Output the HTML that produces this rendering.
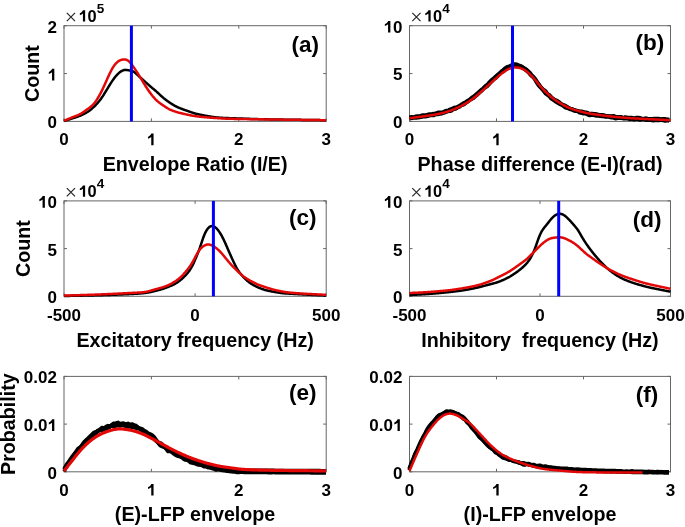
<!DOCTYPE html>
<html><head><meta charset="utf-8"><style>
html,body{margin:0;padding:0;background:#fff;width:685px;height:527px;overflow:hidden}
svg{display:block;will-change:transform;font-family:"Liberation Sans", sans-serif}
text{fill:#000}
</style></head><body>
<svg width="685" height="527" viewBox="0 0 685 527">
<rect x="64.00" y="25.70" width="262.20" height="95.70" fill="none" stroke="#666666" stroke-width="1"/>
<path d="M64.00,121.40v-3.00M64.00,25.70v3.00" stroke="#666666" stroke-width="1"/>
<text x="64.00" y="145.20" font-size="17.00" font-weight="bold" text-anchor="middle">0</text>
<path d="M151.40,121.40v-3.00M151.40,25.70v3.00" stroke="#666666" stroke-width="1"/>
<path d="M829,0L552,0L552,1000C450,905 320,840 167,790L167,1030C330,1090 460,1200 560,1409L829,1409Z" transform="translate(146.67,145.20) scale(0.00830,-0.00830)" fill="#000"/>
<text x="151.40" y="145.20" font-size="17.00" font-weight="bold" text-anchor="middle">&#8199;</text>
<path d="M238.80,121.40v-3.00M238.80,25.70v3.00" stroke="#666666" stroke-width="1"/>
<text x="238.80" y="145.20" font-size="17.00" font-weight="bold" text-anchor="middle">2</text>
<path d="M326.20,121.40v-3.00M326.20,25.70v3.00" stroke="#666666" stroke-width="1"/>
<text x="326.20" y="145.20" font-size="17.00" font-weight="bold" text-anchor="middle">3</text>
<path d="M64.00,121.40h3.00M326.20,121.40h-3.00" stroke="#666666" stroke-width="1"/>
<text x="56.90" y="128.30" font-size="17.00" font-weight="bold" text-anchor="end">0</text>
<path d="M64.00,73.55h3.00M326.20,73.55h-3.00" stroke="#666666" stroke-width="1"/>
<path d="M829,0L552,0L552,1000C450,905 320,840 167,790L167,1030C330,1090 460,1200 560,1409L829,1409Z" transform="translate(47.45,80.45) scale(0.00830,-0.00830)" fill="#000"/>
<text x="56.90" y="80.45" font-size="17.00" font-weight="bold" text-anchor="end">&#8199;</text>
<path d="M64.00,25.70h3.00M326.20,25.70h-3.00" stroke="#666666" stroke-width="1"/>
<text x="56.90" y="32.60" font-size="17.00" font-weight="bold" text-anchor="end">2</text>
<text x="195.10" y="170.50" font-size="19.70" font-weight="bold" text-anchor="middle">Envelope Ratio (I/E)</text>
<text x="0" y="0" font-size="19.70" font-weight="bold" text-anchor="middle" transform="translate(39.30,73.55) rotate(-90)">Count</text>
<path d="M66.80,12.90l8.2,8.2M75.00,12.90l-8.2,8.2" stroke="#222" stroke-width="1.15" fill="none"/>
<path d="M829,0L552,0L552,1000C450,905 320,840 167,790L167,1030C330,1090 460,1200 560,1409L829,1409Z" transform="translate(78.50,21.50) scale(0.00801,-0.00801)" fill="#000"/>
<text x="78.50" y="21.50" font-size="16.40" font-weight="bold" text-anchor="start">&#8199;0</text>
<text x="96.80" y="12.90" font-size="13.50" font-weight="bold" text-anchor="start">5</text>
<text x="291.50" y="51.80" font-size="22.50" font-weight="bold" text-anchor="start">(a)</text>
<rect x="409.50" y="25.70" width="261.00" height="95.70" fill="none" stroke="#666666" stroke-width="1"/>
<path d="M409.50,121.40v-3.00M409.50,25.70v3.00" stroke="#666666" stroke-width="1"/>
<text x="409.50" y="145.20" font-size="17.00" font-weight="bold" text-anchor="middle">0</text>
<path d="M496.50,121.40v-3.00M496.50,25.70v3.00" stroke="#666666" stroke-width="1"/>
<path d="M829,0L552,0L552,1000C450,905 320,840 167,790L167,1030C330,1090 460,1200 560,1409L829,1409Z" transform="translate(491.77,145.20) scale(0.00830,-0.00830)" fill="#000"/>
<text x="496.50" y="145.20" font-size="17.00" font-weight="bold" text-anchor="middle">&#8199;</text>
<path d="M583.50,121.40v-3.00M583.50,25.70v3.00" stroke="#666666" stroke-width="1"/>
<text x="583.50" y="145.20" font-size="17.00" font-weight="bold" text-anchor="middle">2</text>
<path d="M670.50,121.40v-3.00M670.50,25.70v3.00" stroke="#666666" stroke-width="1"/>
<text x="670.50" y="145.20" font-size="17.00" font-weight="bold" text-anchor="middle">3</text>
<path d="M409.50,121.40h3.00M670.50,121.40h-3.00" stroke="#666666" stroke-width="1"/>
<text x="402.40" y="128.30" font-size="17.00" font-weight="bold" text-anchor="end">0</text>
<path d="M409.50,73.55h3.00M670.50,73.55h-3.00" stroke="#666666" stroke-width="1"/>
<text x="402.40" y="80.45" font-size="17.00" font-weight="bold" text-anchor="end">5</text>
<path d="M409.50,25.70h3.00M670.50,25.70h-3.00" stroke="#666666" stroke-width="1"/>
<path d="M829,0L552,0L552,1000C450,905 320,840 167,790L167,1030C330,1090 460,1200 560,1409L829,1409Z" transform="translate(383.49,32.60) scale(0.00830,-0.00830)" fill="#000"/>
<text x="402.40" y="32.60" font-size="17.00" font-weight="bold" text-anchor="end">&#8199;0</text>
<text x="540.00" y="170.50" font-size="19.70" font-weight="bold" text-anchor="middle">Phase difference (E-I)(rad)</text>
<path d="M412.30,12.90l8.2,8.2M420.50,12.90l-8.2,8.2" stroke="#222" stroke-width="1.15" fill="none"/>
<path d="M829,0L552,0L552,1000C450,905 320,840 167,790L167,1030C330,1090 460,1200 560,1409L829,1409Z" transform="translate(424.00,21.50) scale(0.00801,-0.00801)" fill="#000"/>
<text x="424.00" y="21.50" font-size="16.40" font-weight="bold" text-anchor="start">&#8199;0</text>
<text x="442.30" y="12.90" font-size="13.50" font-weight="bold" text-anchor="start">4</text>
<text x="635.40" y="50.30" font-size="22.50" font-weight="bold" text-anchor="start">(b)</text>
<rect x="64.00" y="200.90" width="262.20" height="95.40" fill="none" stroke="#666666" stroke-width="1"/>
<path d="M64.00,296.30v-3.00M64.00,200.90v3.00" stroke="#666666" stroke-width="1"/>
<text x="64.00" y="320.90" font-size="17.00" font-weight="bold" text-anchor="middle">-500</text>
<path d="M195.10,296.30v-3.00M195.10,200.90v3.00" stroke="#666666" stroke-width="1"/>
<text x="195.10" y="320.90" font-size="17.00" font-weight="bold" text-anchor="middle">0</text>
<path d="M326.20,296.30v-3.00M326.20,200.90v3.00" stroke="#666666" stroke-width="1"/>
<text x="326.20" y="320.90" font-size="17.00" font-weight="bold" text-anchor="middle">500</text>
<path d="M64.00,296.30h3.00M326.20,296.30h-3.00" stroke="#666666" stroke-width="1"/>
<text x="56.90" y="303.20" font-size="17.00" font-weight="bold" text-anchor="end">0</text>
<path d="M64.00,248.60h3.00M326.20,248.60h-3.00" stroke="#666666" stroke-width="1"/>
<text x="56.90" y="255.50" font-size="17.00" font-weight="bold" text-anchor="end">5</text>
<path d="M64.00,200.90h3.00M326.20,200.90h-3.00" stroke="#666666" stroke-width="1"/>
<path d="M829,0L552,0L552,1000C450,905 320,840 167,790L167,1030C330,1090 460,1200 560,1409L829,1409Z" transform="translate(37.99,207.80) scale(0.00830,-0.00830)" fill="#000"/>
<text x="56.90" y="207.80" font-size="17.00" font-weight="bold" text-anchor="end">&#8199;0</text>
<text x="195.10" y="346.60" font-size="19.70" font-weight="bold" text-anchor="middle">Excitatory frequency (Hz)</text>
<text x="0" y="0" font-size="19.70" font-weight="bold" text-anchor="middle" transform="translate(30.20,248.60) rotate(-90)">Count</text>
<path d="M66.80,188.10l8.2,8.2M75.00,188.10l-8.2,8.2" stroke="#222" stroke-width="1.15" fill="none"/>
<path d="M829,0L552,0L552,1000C450,905 320,840 167,790L167,1030C330,1090 460,1200 560,1409L829,1409Z" transform="translate(78.50,196.70) scale(0.00801,-0.00801)" fill="#000"/>
<text x="78.50" y="196.70" font-size="16.40" font-weight="bold" text-anchor="start">&#8199;0</text>
<text x="96.80" y="188.10" font-size="13.50" font-weight="bold" text-anchor="start">4</text>
<text x="288.90" y="225.40" font-size="22.50" font-weight="bold" text-anchor="start">(c)</text>
<rect x="409.50" y="200.90" width="261.00" height="95.40" fill="none" stroke="#666666" stroke-width="1"/>
<path d="M409.50,296.30v-3.00M409.50,200.90v3.00" stroke="#666666" stroke-width="1"/>
<text x="409.50" y="320.90" font-size="17.00" font-weight="bold" text-anchor="middle">-500</text>
<path d="M540.00,296.30v-3.00M540.00,200.90v3.00" stroke="#666666" stroke-width="1"/>
<text x="540.00" y="320.90" font-size="17.00" font-weight="bold" text-anchor="middle">0</text>
<path d="M670.50,296.30v-3.00M670.50,200.90v3.00" stroke="#666666" stroke-width="1"/>
<text x="670.50" y="320.90" font-size="17.00" font-weight="bold" text-anchor="middle">500</text>
<path d="M409.50,296.30h3.00M670.50,296.30h-3.00" stroke="#666666" stroke-width="1"/>
<text x="402.40" y="303.20" font-size="17.00" font-weight="bold" text-anchor="end">0</text>
<path d="M409.50,248.60h3.00M670.50,248.60h-3.00" stroke="#666666" stroke-width="1"/>
<text x="402.40" y="255.50" font-size="17.00" font-weight="bold" text-anchor="end">5</text>
<path d="M409.50,200.90h3.00M670.50,200.90h-3.00" stroke="#666666" stroke-width="1"/>
<path d="M829,0L552,0L552,1000C450,905 320,840 167,790L167,1030C330,1090 460,1200 560,1409L829,1409Z" transform="translate(383.49,207.80) scale(0.00830,-0.00830)" fill="#000"/>
<text x="402.40" y="207.80" font-size="17.00" font-weight="bold" text-anchor="end">&#8199;0</text>
<text x="540.00" y="346.60" font-size="19.70" font-weight="bold" text-anchor="middle">Inhibitory&#160; frequency (Hz)</text>
<path d="M412.30,188.10l8.2,8.2M420.50,188.10l-8.2,8.2" stroke="#222" stroke-width="1.15" fill="none"/>
<path d="M829,0L552,0L552,1000C450,905 320,840 167,790L167,1030C330,1090 460,1200 560,1409L829,1409Z" transform="translate(424.00,196.70) scale(0.00801,-0.00801)" fill="#000"/>
<text x="424.00" y="196.70" font-size="16.40" font-weight="bold" text-anchor="start">&#8199;0</text>
<text x="442.30" y="188.10" font-size="13.50" font-weight="bold" text-anchor="start">4</text>
<text x="632.80" y="226.70" font-size="22.50" font-weight="bold" text-anchor="start">(d)</text>
<rect x="64.00" y="376.40" width="262.20" height="95.40" fill="none" stroke="#666666" stroke-width="1"/>
<path d="M64.00,471.80v-3.00M64.00,376.40v3.00" stroke="#666666" stroke-width="1"/>
<text x="64.00" y="495.60" font-size="17.00" font-weight="bold" text-anchor="middle">0</text>
<path d="M151.40,471.80v-3.00M151.40,376.40v3.00" stroke="#666666" stroke-width="1"/>
<path d="M829,0L552,0L552,1000C450,905 320,840 167,790L167,1030C330,1090 460,1200 560,1409L829,1409Z" transform="translate(146.67,495.60) scale(0.00830,-0.00830)" fill="#000"/>
<text x="151.40" y="495.60" font-size="17.00" font-weight="bold" text-anchor="middle">&#8199;</text>
<path d="M238.80,471.80v-3.00M238.80,376.40v3.00" stroke="#666666" stroke-width="1"/>
<text x="238.80" y="495.60" font-size="17.00" font-weight="bold" text-anchor="middle">2</text>
<path d="M326.20,471.80v-3.00M326.20,376.40v3.00" stroke="#666666" stroke-width="1"/>
<text x="326.20" y="495.60" font-size="17.00" font-weight="bold" text-anchor="middle">3</text>
<path d="M64.00,471.80h3.00M326.20,471.80h-3.00" stroke="#666666" stroke-width="1"/>
<text x="56.90" y="478.70" font-size="17.00" font-weight="bold" text-anchor="end">0</text>
<path d="M64.00,424.10h3.00M326.20,424.10h-3.00" stroke="#666666" stroke-width="1"/>
<path d="M829,0L552,0L552,1000C450,905 320,840 167,790L167,1030C330,1090 460,1200 560,1409L829,1409Z" transform="translate(47.45,431.00) scale(0.00830,-0.00830)" fill="#000"/>
<text x="56.90" y="431.00" font-size="17.00" font-weight="bold" text-anchor="end">0.0&#8199;</text>
<path d="M64.00,376.40h3.00M326.20,376.40h-3.00" stroke="#666666" stroke-width="1"/>
<text x="56.90" y="383.30" font-size="17.00" font-weight="bold" text-anchor="end">0.02</text>
<text x="195.10" y="521.40" font-size="19.70" font-weight="bold" text-anchor="middle">(E)-LFP envelope</text>
<text x="0" y="0" font-size="19.70" font-weight="bold" text-anchor="middle" transform="translate(14.90,424.10) rotate(-90)">Probability</text>
<text x="288.90" y="400.00" font-size="22.50" font-weight="bold" text-anchor="start">(e)</text>
<rect x="409.50" y="376.40" width="261.00" height="95.40" fill="none" stroke="#666666" stroke-width="1"/>
<path d="M409.50,471.80v-3.00M409.50,376.40v3.00" stroke="#666666" stroke-width="1"/>
<text x="409.50" y="495.60" font-size="17.00" font-weight="bold" text-anchor="middle">0</text>
<path d="M496.50,471.80v-3.00M496.50,376.40v3.00" stroke="#666666" stroke-width="1"/>
<path d="M829,0L552,0L552,1000C450,905 320,840 167,790L167,1030C330,1090 460,1200 560,1409L829,1409Z" transform="translate(491.77,495.60) scale(0.00830,-0.00830)" fill="#000"/>
<text x="496.50" y="495.60" font-size="17.00" font-weight="bold" text-anchor="middle">&#8199;</text>
<path d="M583.50,471.80v-3.00M583.50,376.40v3.00" stroke="#666666" stroke-width="1"/>
<text x="583.50" y="495.60" font-size="17.00" font-weight="bold" text-anchor="middle">2</text>
<path d="M670.50,471.80v-3.00M670.50,376.40v3.00" stroke="#666666" stroke-width="1"/>
<text x="670.50" y="495.60" font-size="17.00" font-weight="bold" text-anchor="middle">3</text>
<path d="M409.50,471.80h3.00M670.50,471.80h-3.00" stroke="#666666" stroke-width="1"/>
<text x="402.40" y="478.70" font-size="17.00" font-weight="bold" text-anchor="end">0</text>
<path d="M409.50,424.10h3.00M670.50,424.10h-3.00" stroke="#666666" stroke-width="1"/>
<path d="M829,0L552,0L552,1000C450,905 320,840 167,790L167,1030C330,1090 460,1200 560,1409L829,1409Z" transform="translate(392.95,431.00) scale(0.00830,-0.00830)" fill="#000"/>
<text x="402.40" y="431.00" font-size="17.00" font-weight="bold" text-anchor="end">0.0&#8199;</text>
<path d="M409.50,376.40h3.00M670.50,376.40h-3.00" stroke="#666666" stroke-width="1"/>
<text x="402.40" y="383.30" font-size="17.00" font-weight="bold" text-anchor="end">0.02</text>
<text x="540.00" y="521.40" font-size="19.70" font-weight="bold" text-anchor="middle">(I)-LFP envelope</text>
<text x="635.80" y="401.60" font-size="22.50" font-weight="bold" text-anchor="start">(f)</text>
<path d="M64.00,121.00 L64.50,120.84 L65.00,120.69 L65.50,120.53 L66.00,120.38 L66.50,120.22 L67.00,120.07 L67.50,119.91 L68.00,119.75 L68.50,119.60 L69.00,119.44 L69.50,119.28 L70.00,119.12 L70.50,118.97 L71.00,118.81 L71.50,118.65 L72.00,118.49 L72.50,118.33 L73.00,118.17 L73.50,118.01 L74.00,117.85 L74.50,117.69 L75.00,117.53 L75.50,117.37 L76.00,117.21 L76.50,117.04 L77.00,116.87 L77.50,116.70 L78.00,116.52 L78.50,116.34 L79.00,116.15 L79.50,115.95 L80.00,115.75 L80.50,115.53 L81.00,115.31 L81.50,115.09 L82.00,114.85 L82.50,114.61 L83.00,114.37 L83.50,114.12 L84.00,113.86 L84.50,113.60 L85.00,113.34 L85.50,113.07 L86.00,112.81 L86.50,112.53 L87.00,112.25 L87.50,111.95 L88.00,111.65 L88.50,111.32 L89.00,110.98 L89.50,110.62 L90.00,110.23 L90.50,109.83 L91.00,109.42 L91.50,109.00 L92.00,108.56 L92.50,108.12 L93.00,107.67 L93.50,107.20 L94.00,106.73 L94.50,106.25 L95.00,105.75 L95.50,105.25 L96.00,104.73 L96.50,104.20 L97.00,103.65 L97.50,103.09 L98.00,102.52 L98.50,101.94 L99.00,101.33 L99.50,100.72 L100.00,100.08 L100.50,99.42 L101.00,98.75 L101.50,98.05 L102.00,97.33 L102.50,96.59 L103.00,95.83 L103.50,95.05 L104.00,94.25 L104.50,93.45 L105.00,92.64 L105.50,91.82 L106.00,91.00 L106.50,90.18 L107.00,89.36 L107.50,88.55 L108.00,87.73 L108.50,86.91 L109.00,86.09 L109.50,85.28 L110.00,84.47 L110.50,83.67 L111.00,82.88 L111.50,82.11 L112.00,81.36 L112.50,80.62 L113.00,79.90 L113.50,79.20 L114.00,78.51 L114.50,77.85 L115.00,77.20 L115.50,76.58 L116.00,75.97 L116.50,75.39 L117.00,74.84 L117.50,74.31 L118.00,73.81 L118.50,73.34 L119.00,72.89 L119.50,72.48 L120.00,72.10 L120.50,71.74 L121.00,71.41 L121.50,71.10 L122.00,70.83 L122.50,70.58 L123.00,70.37 L123.50,70.19 L124.00,70.05 L124.50,69.95 L125.00,69.89 L125.50,69.87 L126.00,69.89 L126.50,69.94 L127.00,70.02 L127.50,70.11 L128.00,70.20 L128.50,70.30 L129.00,70.39 L129.50,70.48 L130.00,70.57 L130.50,70.66 L131.00,70.76 L131.50,70.88 L132.00,71.03 L132.50,71.21 L133.00,71.43 L133.50,71.68 L134.00,71.99 L134.50,72.33 L135.00,72.71 L135.50,73.12 L136.00,73.55 L136.50,74.00 L137.00,74.45 L137.50,74.91 L138.00,75.37 L138.50,75.83 L139.00,76.28 L139.50,76.73 L140.00,77.18 L140.50,77.63 L141.00,78.08 L141.50,78.53 L142.00,78.98 L142.50,79.42 L143.00,79.87 L143.50,80.32 L144.00,80.77 L144.50,81.22 L145.00,81.67 L145.50,82.12 L146.00,82.57 L146.50,83.02 L147.00,83.47 L147.50,83.92 L148.00,84.36 L148.50,84.80 L149.00,85.23 L149.50,85.66 L150.00,86.09 L150.50,86.52 L151.00,86.94 L151.50,87.35 L152.00,87.77 L152.50,88.19 L153.00,88.60 L153.50,89.02 L154.00,89.44 L154.50,89.86 L155.00,90.29 L155.50,90.72 L156.00,91.16 L156.50,91.60 L157.00,92.06 L157.50,92.51 L158.00,92.98 L158.50,93.45 L159.00,93.92 L159.50,94.39 L160.00,94.86 L160.50,95.32 L161.00,95.78 L161.50,96.24 L162.00,96.69 L162.50,97.13 L163.00,97.56 L163.50,97.98 L164.00,98.40 L164.50,98.80 L165.00,99.20 L165.50,99.59 L166.00,99.98 L166.50,100.36 L167.00,100.73 L167.50,101.09 L168.00,101.45 L168.50,101.80 L169.00,102.14 L169.50,102.48 L170.00,102.82 L170.50,103.15 L171.00,103.47 L171.50,103.79 L172.00,104.11 L172.50,104.42 L173.00,104.73 L173.50,105.03 L174.00,105.32 L174.50,105.60 L175.00,105.88 L175.50,106.14 L176.00,106.40 L176.50,106.65 L177.00,106.89 L177.50,107.13 L178.00,107.36 L178.50,107.58 L179.00,107.79 L179.50,108.00 L180.00,108.21 L180.50,108.41 L181.00,108.60 L181.50,108.79 L182.00,108.98 L182.50,109.17 L183.00,109.35 L183.50,109.54 L184.00,109.72 L184.50,109.90 L185.00,110.07 L185.50,110.25 L186.00,110.42 L186.50,110.60 L187.00,110.77 L187.50,110.94 L188.00,111.12 L188.50,111.29 L189.00,111.46 L189.50,111.63 L190.00,111.81 L190.50,111.98 L191.00,112.16 L191.50,112.33 L192.00,112.51 L192.50,112.68 L193.00,112.85 L193.50,113.01 L194.00,113.17 L194.50,113.32 L195.00,113.46 L195.50,113.60 L196.00,113.73 L196.50,113.85 L197.00,113.97 L197.50,114.08 L198.00,114.19 L198.50,114.30 L199.00,114.41 L199.50,114.51 L200.00,114.62 L200.50,114.72 L201.00,114.82 L201.50,114.93 L202.00,115.03 L202.50,115.13 L203.00,115.23 L203.50,115.33 L204.00,115.42 L204.50,115.52 L205.00,115.62 L205.50,115.71 L206.00,115.80 L206.50,115.89 L207.00,115.98 L207.50,116.07 L208.00,116.16 L208.50,116.25 L209.00,116.33 L209.50,116.41 L210.00,116.50 L210.50,116.57 L211.00,116.65 L211.50,116.73 L212.00,116.80 L212.50,116.87 L213.00,116.94 L213.50,117.01 L214.00,117.08 L214.50,117.14 L215.00,117.20 L215.50,117.26 L216.00,117.31 L216.50,117.37 L217.00,117.42 L217.50,117.47 L218.00,117.52 L218.50,117.56 L219.00,117.60 L219.50,117.64 L220.00,117.68 L220.50,117.72 L221.00,117.75 L221.50,117.79 L222.00,117.82 L222.50,117.85 L223.00,117.88 L223.50,117.90 L224.00,117.93 L224.50,117.96 L225.00,117.98 L225.50,118.00 L226.00,118.02 L226.50,118.05 L227.00,118.07 L227.50,118.09 L228.00,118.10 L228.50,118.12 L229.00,118.14 L229.50,118.16 L230.00,118.17 L230.50,118.19 L231.00,118.21 L231.50,118.22 L232.00,118.24 L232.50,118.25 L233.00,118.27 L233.50,118.29 L234.00,118.30 L234.50,118.32 L235.00,118.33 L235.50,118.35 L236.00,118.36 L236.50,118.38 L237.00,118.40 L237.50,118.41 L238.00,118.43 L238.50,118.45 L239.00,118.47 L239.50,118.48 L240.00,118.50 L240.50,118.52 L241.00,118.54 L241.50,118.56 L242.00,118.58 L242.50,118.59 L243.00,118.61 L243.50,118.63 L244.00,118.65 L244.50,118.67 L245.00,118.69 L245.50,118.71 L246.00,118.73 L246.50,118.74 L247.00,118.76 L247.50,118.78 L248.00,118.80 L248.50,118.82 L249.00,118.83 L249.50,118.85 L250.00,118.87 L250.50,118.89 L251.00,118.90 L251.50,118.92 L252.00,118.94 L252.50,118.95 L253.00,118.97 L253.50,118.99 L254.00,119.00 L254.50,119.02 L255.00,119.03 L255.50,119.05 L256.00,119.06 L256.50,119.08 L257.00,119.09 L257.50,119.10 L258.00,119.12 L258.50,119.13 L259.00,119.15 L259.50,119.16 L260.00,119.17 L260.50,119.19 L261.00,119.20 L261.50,119.21 L262.00,119.22 L262.50,119.24 L263.00,119.25 L263.50,119.26 L264.00,119.27 L264.50,119.28 L265.00,119.29 L265.50,119.31 L266.00,119.32 L266.50,119.33 L267.00,119.34 L267.50,119.35 L268.00,119.36 L268.50,119.37 L269.00,119.38 L269.50,119.39 L270.00,119.40 L270.50,119.41 L271.00,119.42 L271.50,119.43 L272.00,119.44 L272.50,119.45 L273.00,119.46 L273.50,119.46 L274.00,119.47 L274.50,119.48 L275.00,119.49 L275.50,119.50 L276.00,119.51 L276.50,119.52 L277.00,119.52 L277.50,119.53 L278.00,119.54 L278.50,119.55 L279.00,119.56 L279.50,119.56 L280.00,119.57 L280.50,119.58 L281.00,119.59 L281.50,119.60 L282.00,119.60 L282.50,119.61 L283.00,119.62 L283.50,119.63 L284.00,119.63 L284.50,119.64 L285.00,119.65 L285.50,119.66 L286.00,119.66 L286.50,119.67 L287.00,119.68 L287.50,119.68 L288.00,119.69 L288.50,119.70 L289.00,119.71 L289.50,119.71 L290.00,119.72 L290.50,119.73 L291.00,119.73 L291.50,119.74 L292.00,119.75 L292.50,119.76 L293.00,119.76 L293.50,119.77 L294.00,119.78 L294.50,119.78 L295.00,119.79 L295.50,119.80 L296.00,119.80 L296.50,119.81 L297.00,119.82 L297.50,119.82 L298.00,119.83 L298.50,119.84 L299.00,119.84 L299.50,119.85 L300.00,119.86 L300.50,119.86 L301.00,119.87 L301.50,119.88 L302.00,119.88 L302.50,119.89 L303.00,119.90 L303.50,119.90 L304.00,119.91 L304.50,119.92 L305.00,119.92 L305.50,119.93 L306.00,119.94 L306.50,119.94 L307.00,119.95 L307.50,119.96 L308.00,119.96 L308.50,119.97 L309.00,119.98 L309.50,119.98 L310.00,119.99 L310.50,120.00 L311.00,120.00 L311.50,120.01 L312.00,120.02 L312.50,120.02 L313.00,120.03 L313.50,120.03 L314.00,120.04 L314.50,120.05 L315.00,120.05 L315.50,120.06 L316.00,120.07 L316.50,120.07 L317.00,120.08 L317.50,120.09 L318.00,120.09 L318.50,120.10 L319.00,120.11 L319.50,120.11 L320.00,120.12 L320.50,120.13 L321.00,120.13 L321.50,120.14 L322.00,120.15 L322.50,120.15 L323.00,120.16 L323.50,120.17 L324.00,120.17 L324.50,120.18 L325.00,120.19 L325.50,120.19 L326.00,120.20" stroke="#000" stroke-width="2.50" fill="none" stroke-linejoin="round" stroke-linecap="butt"/>
<path d="M64.00,120.80 L64.50,120.59 L65.00,120.38 L65.50,120.17 L66.00,119.96 L66.50,119.76 L67.00,119.55 L67.50,119.34 L68.00,119.13 L68.50,118.92 L69.00,118.71 L69.50,118.51 L70.00,118.30 L70.50,118.09 L71.00,117.88 L71.50,117.68 L72.00,117.48 L72.50,117.28 L73.00,117.08 L73.50,116.89 L74.00,116.70 L74.50,116.51 L75.00,116.32 L75.50,116.14 L76.00,115.96 L76.50,115.77 L77.00,115.58 L77.50,115.38 L78.00,115.18 L78.50,114.96 L79.00,114.73 L79.50,114.49 L80.00,114.23 L80.50,113.95 L81.00,113.66 L81.50,113.36 L82.00,113.04 L82.50,112.71 L83.00,112.37 L83.50,112.02 L84.00,111.66 L84.50,111.30 L85.00,110.94 L85.50,110.57 L86.00,110.21 L86.50,109.85 L87.00,109.49 L87.50,109.14 L88.00,108.79 L88.50,108.43 L89.00,108.07 L89.50,107.69 L90.00,107.30 L90.50,106.89 L91.00,106.47 L91.50,106.02 L92.00,105.56 L92.50,105.07 L93.00,104.56 L93.50,104.02 L94.00,103.46 L94.50,102.86 L95.00,102.23 L95.50,101.56 L96.00,100.87 L96.50,100.14 L97.00,99.38 L97.50,98.59 L98.00,97.77 L98.50,96.93 L99.00,96.06 L99.50,95.17 L100.00,94.26 L100.50,93.32 L101.00,92.35 L101.50,91.37 L102.00,90.36 L102.50,89.34 L103.00,88.30 L103.50,87.23 L104.00,86.15 L104.50,85.06 L105.00,83.94 L105.50,82.82 L106.00,81.69 L106.50,80.56 L107.00,79.43 L107.50,78.31 L108.00,77.21 L108.50,76.12 L109.00,75.04 L109.50,73.98 L110.00,72.94 L110.50,71.93 L111.00,70.95 L111.50,69.99 L112.00,69.08 L112.50,68.20 L113.00,67.37 L113.50,66.58 L114.00,65.84 L114.50,65.14 L115.00,64.49 L115.50,63.88 L116.00,63.32 L116.50,62.81 L117.00,62.34 L117.50,61.91 L118.00,61.53 L118.50,61.19 L119.00,60.88 L119.50,60.61 L120.00,60.37 L120.50,60.16 L121.00,59.98 L121.50,59.82 L122.00,59.69 L122.50,59.59 L123.00,59.51 L123.50,59.46 L124.00,59.43 L124.50,59.44 L125.00,59.48 L125.50,59.55 L126.00,59.66 L126.50,59.81 L127.00,60.01 L127.50,60.27 L128.00,60.58 L128.50,60.94 L129.00,61.36 L129.50,61.84 L130.00,62.37 L130.50,62.95 L131.00,63.56 L131.50,64.21 L132.00,64.88 L132.50,65.56 L133.00,66.26 L133.50,66.96 L134.00,67.68 L134.50,68.40 L135.00,69.13 L135.50,69.88 L136.00,70.63 L136.50,71.39 L137.00,72.16 L137.50,72.95 L138.00,73.74 L138.50,74.54 L139.00,75.34 L139.50,76.15 L140.00,76.97 L140.50,77.79 L141.00,78.62 L141.50,79.44 L142.00,80.27 L142.50,81.10 L143.00,81.92 L143.50,82.74 L144.00,83.56 L144.50,84.37 L145.00,85.17 L145.50,85.97 L146.00,86.76 L146.50,87.53 L147.00,88.30 L147.50,89.05 L148.00,89.80 L148.50,90.53 L149.00,91.25 L149.50,91.97 L150.00,92.67 L150.50,93.35 L151.00,94.03 L151.50,94.68 L152.00,95.32 L152.50,95.94 L153.00,96.55 L153.50,97.13 L154.00,97.69 L154.50,98.24 L155.00,98.76 L155.50,99.28 L156.00,99.77 L156.50,100.25 L157.00,100.72 L157.50,101.17 L158.00,101.61 L158.50,102.03 L159.00,102.45 L159.50,102.84 L160.00,103.23 L160.50,103.60 L161.00,103.96 L161.50,104.31 L162.00,104.65 L162.50,104.98 L163.00,105.32 L163.50,105.65 L164.00,105.98 L164.50,106.31 L165.00,106.63 L165.50,106.96 L166.00,107.28 L166.50,107.60 L167.00,107.91 L167.50,108.21 L168.00,108.50 L168.50,108.78 L169.00,109.05 L169.50,109.30 L170.00,109.55 L170.50,109.78 L171.00,110.00 L171.50,110.22 L172.00,110.42 L172.50,110.62 L173.00,110.81 L173.50,111.00 L174.00,111.18 L174.50,111.36 L175.00,111.52 L175.50,111.69 L176.00,111.85 L176.50,112.00 L177.00,112.15 L177.50,112.30 L178.00,112.44 L178.50,112.58 L179.00,112.71 L179.50,112.84 L180.00,112.97 L180.50,113.09 L181.00,113.22 L181.50,113.34 L182.00,113.46 L182.50,113.57 L183.00,113.69 L183.50,113.80 L184.00,113.92 L184.50,114.03 L185.00,114.14 L185.50,114.25 L186.00,114.36 L186.50,114.47 L187.00,114.57 L187.50,114.68 L188.00,114.78 L188.50,114.89 L189.00,114.99 L189.50,115.10 L190.00,115.20 L190.50,115.30 L191.00,115.40 L191.50,115.51 L192.00,115.60 L192.50,115.70 L193.00,115.79 L193.50,115.88 L194.00,115.97 L194.50,116.05 L195.00,116.12 L195.50,116.19 L196.00,116.26 L196.50,116.32 L197.00,116.38 L197.50,116.44 L198.00,116.49 L198.50,116.55 L199.00,116.60 L199.50,116.66 L200.00,116.71 L200.50,116.76 L201.00,116.81 L201.50,116.86 L202.00,116.91 L202.50,116.96 L203.00,117.01 L203.50,117.06 L204.00,117.10 L204.50,117.15 L205.00,117.20 L205.50,117.24 L206.00,117.29 L206.50,117.33 L207.00,117.38 L207.50,117.42 L208.00,117.46 L208.50,117.50 L209.00,117.55 L209.50,117.59 L210.00,117.63 L210.50,117.67 L211.00,117.70 L211.50,117.74 L212.00,117.78 L212.50,117.82 L213.00,117.85 L213.50,117.89 L214.00,117.92 L214.50,117.96 L215.00,117.99 L215.50,118.02 L216.00,118.06 L216.50,118.09 L217.00,118.12 L217.50,118.15 L218.00,118.18 L218.50,118.22 L219.00,118.25 L219.50,118.28 L220.00,118.32 L220.50,118.35 L221.00,118.38 L221.50,118.42 L222.00,118.45 L222.50,118.48 L223.00,118.51 L223.50,118.53 L224.00,118.56 L224.50,118.58 L225.00,118.61 L225.50,118.63 L226.00,118.65 L226.50,118.67 L227.00,118.69 L227.50,118.70 L228.00,118.72 L228.50,118.73 L229.00,118.75 L229.50,118.76 L230.00,118.78 L230.50,118.79 L231.00,118.80 L231.50,118.82 L232.00,118.83 L232.50,118.84 L233.00,118.85 L233.50,118.86 L234.00,118.88 L234.50,118.89 L235.00,118.90 L235.50,118.91 L236.00,118.92 L236.50,118.93 L237.00,118.94 L237.50,118.95 L238.00,118.96 L238.50,118.97 L239.00,118.98 L239.50,118.99 L240.00,119.00 L240.50,119.01 L241.00,119.02 L241.50,119.03 L242.00,119.04 L242.50,119.05 L243.00,119.05 L243.50,119.06 L244.00,119.07 L244.50,119.08 L245.00,119.09 L245.50,119.10 L246.00,119.11 L246.50,119.11 L247.00,119.12 L247.50,119.13 L248.00,119.14 L248.50,119.15 L249.00,119.15 L249.50,119.16 L250.00,119.17 L250.50,119.18 L251.00,119.19 L251.50,119.19 L252.00,119.20 L252.50,119.21 L253.00,119.22 L253.50,119.22 L254.00,119.23 L254.50,119.24 L255.00,119.25 L255.50,119.25 L256.00,119.26 L256.50,119.27 L257.00,119.28 L257.50,119.28 L258.00,119.29 L258.50,119.30 L259.00,119.31 L259.50,119.31 L260.00,119.32 L260.50,119.33 L261.00,119.33 L261.50,119.34 L262.00,119.35 L262.50,119.36 L263.00,119.36 L263.50,119.37 L264.00,119.38 L264.50,119.38 L265.00,119.39 L265.50,119.40 L266.00,119.41 L266.50,119.41 L267.00,119.42 L267.50,119.43 L268.00,119.43 L268.50,119.44 L269.00,119.45 L269.50,119.45 L270.00,119.46 L270.50,119.47 L271.00,119.47 L271.50,119.48 L272.00,119.49 L272.50,119.50 L273.00,119.50 L273.50,119.51 L274.00,119.52 L274.50,119.52 L275.00,119.53 L275.50,119.54 L276.00,119.54 L276.50,119.55 L277.00,119.56 L277.50,119.56 L278.00,119.57 L278.50,119.58 L279.00,119.58 L279.50,119.59 L280.00,119.60 L280.50,119.60 L281.00,119.61 L281.50,119.62 L282.00,119.62 L282.50,119.63 L283.00,119.64 L283.50,119.64 L284.00,119.65 L284.50,119.66 L285.00,119.66 L285.50,119.67 L286.00,119.68 L286.50,119.68 L287.00,119.69 L287.50,119.70 L288.00,119.70 L288.50,119.71 L289.00,119.72 L289.50,119.72 L290.00,119.73 L290.50,119.74 L291.00,119.74 L291.50,119.75 L292.00,119.76 L292.50,119.76 L293.00,119.77 L293.50,119.78 L294.00,119.78 L294.50,119.79 L295.00,119.79 L295.50,119.80 L296.00,119.81 L296.50,119.81 L297.00,119.82 L297.50,119.83 L298.00,119.83 L298.50,119.84 L299.00,119.85 L299.50,119.85 L300.00,119.86 L300.50,119.87 L301.00,119.87 L301.50,119.88 L302.00,119.89 L302.50,119.89 L303.00,119.90 L303.50,119.91 L304.00,119.91 L304.50,119.92 L305.00,119.92 L305.50,119.93 L306.00,119.94 L306.50,119.94 L307.00,119.95 L307.50,119.96 L308.00,119.96 L308.50,119.97 L309.00,119.98 L309.50,119.98 L310.00,119.99 L310.50,120.00 L311.00,120.00 L311.50,120.01 L312.00,120.02 L312.50,120.02 L313.00,120.03 L313.50,120.03 L314.00,120.04 L314.50,120.05 L315.00,120.05 L315.50,120.06 L316.00,120.07 L316.50,120.07 L317.00,120.08 L317.50,120.09 L318.00,120.09 L318.50,120.10 L319.00,120.11 L319.50,120.11 L320.00,120.12 L320.50,120.13 L321.00,120.13 L321.50,120.14 L322.00,120.15 L322.50,120.15 L323.00,120.16 L323.50,120.17 L324.00,120.17 L324.50,120.18 L325.00,120.19 L325.50,120.19 L326.00,120.20" stroke="#e30808" stroke-width="2.50" fill="none" stroke-linejoin="round" stroke-linecap="butt"/>
<path d="M409.50,117.24 L410.50,116.99 L411.50,116.87 L412.50,116.99 L413.50,117.04 L414.50,116.73 L415.50,116.34 L416.50,116.15 L417.50,116.11 L418.50,116.16 L419.50,116.09 L420.50,115.75 L421.50,115.36 L422.50,115.17 L423.50,115.10 L424.50,115.06 L425.50,114.97 L426.50,114.79 L427.50,114.55 L428.50,114.28 L429.50,114.06 L430.50,113.99 L431.50,113.94 L432.50,113.78 L433.50,113.62 L434.50,113.57 L435.50,113.43 L436.50,112.99 L437.50,112.53 L438.50,112.35 L439.50,112.33 L440.50,112.36 L441.50,112.39 L442.50,112.34 L443.50,112.04 L444.50,111.35 L445.50,110.72 L446.50,110.61 L447.50,110.56 L448.50,110.11 L449.50,109.53 L450.50,109.12 L451.50,108.76 L452.50,108.35 L453.50,107.94 L454.50,107.54 L455.50,107.20 L456.50,106.96 L457.50,106.67 L458.50,106.19 L459.50,105.60 L460.50,104.97 L461.50,104.32 L462.50,103.68 L463.50,103.08 L464.50,102.53 L465.50,101.98 L466.50,101.34 L467.50,100.71 L468.50,100.19 L469.50,99.58 L470.50,98.70 L471.50,97.78 L472.50,97.07 L473.50,96.41 L474.50,95.61 L475.50,94.76 L476.50,93.89 L477.50,93.04 L478.50,92.20 L479.50,91.34 L480.50,90.43 L481.50,89.57 L482.50,88.83 L483.50,88.02 L484.50,86.91 L485.50,85.83 L486.50,85.10 L487.50,84.34 L488.50,83.19 L489.50,81.94 L490.50,80.89 L491.50,79.97 L492.50,79.12 L493.50,78.30 L494.50,77.44 L495.50,76.54 L496.50,75.62 L497.50,74.74 L498.50,73.99 L499.50,73.25 L500.50,72.40 L501.50,71.48 L502.50,70.53 L503.50,69.58 L504.50,68.66 L505.50,67.83 L506.50,67.17 L507.50,66.70 L508.50,66.43 L509.50,66.16 L510.50,65.66 L511.50,65.07 L512.50,64.51 L513.50,64.13 L514.50,64.05 L515.50,64.13 L516.50,64.25 L517.50,64.51 L518.50,65.05 L519.50,65.58 L520.50,65.82 L521.50,66.17 L522.50,66.99 L523.50,67.88 L524.50,68.40 L525.50,68.85 L526.50,69.53 L527.50,70.33 L528.50,71.18 L529.50,72.18 L530.50,73.45 L531.50,74.73 L532.50,75.77 L533.50,76.76 L534.50,77.88 L535.50,79.19 L536.50,80.75 L537.50,82.32 L538.50,83.66 L539.50,84.95 L540.50,86.38 L541.50,87.74 L542.50,88.78 L543.50,89.56 L544.50,90.10 L545.50,90.86 L546.50,92.28 L547.50,93.66 L548.50,94.28 L549.50,94.84 L550.50,96.06 L551.50,97.43 L552.50,98.43 L553.50,99.10 L554.50,99.51 L555.50,99.86 L556.50,100.36 L557.50,100.92 L558.50,101.48 L559.50,102.16 L560.50,103.10 L561.50,103.97 L562.50,104.47 L563.50,104.82 L564.50,105.25 L565.50,105.72 L566.50,106.24 L567.50,106.87 L568.50,107.70 L569.50,108.39 L570.50,108.61 L571.50,108.70 L572.50,109.03 L573.50,109.43 L574.50,109.77 L575.50,110.09 L576.50,110.43 L577.50,110.77 L578.50,111.09 L579.50,111.29 L580.50,111.29 L581.50,111.30 L582.50,111.56 L583.50,111.87 L584.50,112.04 L585.50,112.17 L586.50,112.35 L587.50,112.64 L588.50,113.12 L589.50,113.51 L590.50,113.50 L591.50,113.42 L592.50,113.56 L593.50,113.76 L594.50,113.83 L595.50,113.87 L596.50,113.99 L597.50,114.21 L598.50,114.57 L599.50,114.86 L600.50,114.86 L601.50,114.79 L602.50,114.85 L603.50,115.02 L604.50,115.29 L605.50,115.55 L606.50,115.70 L607.50,115.82 L608.50,115.98 L609.50,116.11 L610.50,116.16 L611.50,116.10 L612.50,115.89 L613.50,115.82 L614.50,116.17 L615.50,116.60 L616.50,116.76 L617.50,116.83 L618.50,116.99 L619.50,117.07 L620.50,116.89 L621.50,116.85 L622.50,117.33 L623.50,117.72 L624.50,117.43 L625.50,117.06 L626.50,117.25 L627.50,117.57 L628.50,117.64 L629.50,117.58 L630.50,117.54 L631.50,117.58 L632.50,117.79 L633.50,117.98 L634.50,117.97 L635.50,117.81 L636.50,117.58 L637.50,117.44 L638.50,117.55 L639.50,117.80 L640.50,118.06 L641.50,118.34 L642.50,118.66 L643.50,118.77 L644.50,118.45 L645.50,118.12 L646.50,118.20 L647.50,118.48 L648.50,118.73 L649.50,118.89 L650.50,118.88 L651.50,118.80 L652.50,118.72 L653.50,118.64 L654.50,118.55 L655.50,118.49 L656.50,118.46 L657.50,118.50 L658.50,118.64 L659.50,118.79 L660.50,118.91 L661.50,118.93 L662.50,118.81 L663.50,118.69 L664.50,118.73 L665.50,118.88 L666.50,119.13 L667.50,119.33 L668.50,119.37 L669.50,119.32" stroke="#000" stroke-width="3.60" fill="none" stroke-linejoin="round" stroke-linecap="butt"/>
<path d="M409.50,117.75 L410.50,117.65 L411.50,117.53 L412.50,117.36 L413.50,117.23 L414.50,117.24 L415.50,117.28 L416.50,117.25 L417.50,117.19 L418.50,117.13 L419.50,117.00 L420.50,116.74 L421.50,116.46 L422.50,116.28 L423.50,116.18 L424.50,116.11 L425.50,116.05 L426.50,115.96 L427.50,115.82 L428.50,115.66 L429.50,115.47 L430.50,115.30 L431.50,115.06 L432.50,114.69 L433.50,114.28 L434.50,113.91 L435.50,113.71 L436.50,113.79 L437.50,113.86 L438.50,113.62 L439.50,113.27 L440.50,113.02 L441.50,112.77 L442.50,112.44 L443.50,112.06 L444.50,111.69 L445.50,111.47 L446.50,111.54 L447.50,111.56 L448.50,111.23 L449.50,110.68 L450.50,110.05 L451.50,109.52 L452.50,109.26 L453.50,109.05 L454.50,108.66 L455.50,108.18 L456.50,107.72 L457.50,107.34 L458.50,107.13 L459.50,106.79 L460.50,106.01 L461.50,105.06 L462.50,104.22 L463.50,103.55 L464.50,103.13 L465.50,102.70 L466.50,102.01 L467.50,101.30 L468.50,100.78 L469.50,100.27 L470.50,99.56 L471.50,98.79 L472.50,98.06 L473.50,97.27 L474.50,96.32 L475.50,95.39 L476.50,94.65 L477.50,93.89 L478.50,92.90 L479.50,91.90 L480.50,91.12 L481.50,90.34 L482.50,89.36 L483.50,88.27 L484.50,87.17 L485.50,86.19 L486.50,85.48 L487.50,84.73 L488.50,83.65 L489.50,82.60 L490.50,81.93 L491.50,81.29 L492.50,80.30 L493.50,79.21 L494.50,78.25 L495.50,77.33 L496.50,76.37 L497.50,75.41 L498.50,74.50 L499.50,73.49 L500.50,72.22 L501.50,71.16 L502.50,70.78 L503.50,70.43 L504.50,69.49 L505.50,68.52 L506.50,68.05 L507.50,67.69 L508.50,67.01 L509.50,66.32 L510.50,65.93 L511.50,65.68 L512.50,65.44 L513.50,65.19 L514.50,64.94 L515.50,64.83 L516.50,65.00 L517.50,65.35 L518.50,65.75 L519.50,66.14 L520.50,66.43 L521.50,66.71 L522.50,67.05 L523.50,67.54 L524.50,68.25 L525.50,69.13 L526.50,70.10 L527.50,71.14 L528.50,72.27 L529.50,73.40 L530.50,74.46 L531.50,75.50 L532.50,76.58 L533.50,77.65 L534.50,78.70 L535.50,79.91 L536.50,81.52 L537.50,83.17 L538.50,84.49 L539.50,85.67 L540.50,86.85 L541.50,88.08 L542.50,89.40 L543.50,90.66 L544.50,91.71 L545.50,92.66 L546.50,93.61 L547.50,94.46 L548.50,95.09 L549.50,95.73 L550.50,96.60 L551.50,97.46 L552.50,98.08 L553.50,98.75 L554.50,99.72 L555.50,100.72 L556.50,101.47 L557.50,102.13 L558.50,102.90 L559.50,103.62 L560.50,104.15 L561.50,104.57 L562.50,104.99 L563.50,105.58 L564.50,106.50 L565.50,107.27 L566.50,107.40 L567.50,107.37 L568.50,107.63 L569.50,108.06 L570.50,108.54 L571.50,109.07 L572.50,109.62 L573.50,110.07 L574.50,110.30 L575.50,110.46 L576.50,110.72 L577.50,110.98 L578.50,111.13 L579.50,111.42 L580.50,112.06 L581.50,112.63 L582.50,112.68 L583.50,112.56 L584.50,112.62 L585.50,112.83 L586.50,113.18 L587.50,113.50 L588.50,113.62 L589.50,113.70 L590.50,113.90 L591.50,114.23 L592.50,114.65 L593.50,114.95 L594.50,114.88 L595.50,114.76 L596.50,114.88 L597.50,115.09 L598.50,115.20 L599.50,115.28 L600.50,115.41 L601.50,115.61 L602.50,115.90 L603.50,116.16 L604.50,116.29 L605.50,116.33 L606.50,116.31 L607.50,116.28 L608.50,116.27 L609.50,116.34 L610.50,116.53 L611.50,116.79 L612.50,117.06 L613.50,117.26 L614.50,117.27 L615.50,117.24 L616.50,117.30 L617.50,117.31 L618.50,117.15 L619.50,117.12 L620.50,117.53 L621.50,117.91 L622.50,117.77 L623.50,117.51 L624.50,117.51 L625.50,117.67 L626.50,117.86 L627.50,118.06 L628.50,118.21 L629.50,118.32 L630.50,118.40 L631.50,118.43 L632.50,118.39 L633.50,118.36 L634.50,118.45 L635.50,118.56 L636.50,118.60 L637.50,118.58 L638.50,118.47 L639.50,118.43 L640.50,118.63 L641.50,118.85 L642.50,118.89 L643.50,118.91 L644.50,119.07 L645.50,119.22 L646.50,119.23 L647.50,119.24 L648.50,119.38 L649.50,119.53 L650.50,119.57 L651.50,119.58 L652.50,119.62 L653.50,119.69 L654.50,119.77 L655.50,119.83 L656.50,119.83 L657.50,119.79 L658.50,119.72 L659.50,119.73 L660.50,119.90 L661.50,120.03 L662.50,119.90 L663.50,119.74 L664.50,119.80 L665.50,119.96 L666.50,120.12 L667.50,120.21 L668.50,120.18 L669.50,120.09" stroke="#000" stroke-width="3.60" fill="none" stroke-linejoin="round" stroke-linecap="butt"/>
<path d="M409.50,118.79 L410.50,118.49 L411.50,118.24 L412.50,118.09 L413.50,118.01 L414.50,117.98 L415.50,117.94 L416.50,117.85 L417.50,117.74 L418.50,117.67 L419.50,117.54 L420.50,117.29 L421.50,117.03 L422.50,116.89 L423.50,116.81 L424.50,116.71 L425.50,116.60 L426.50,116.45 L427.50,116.23 L428.50,115.87 L429.50,115.54 L430.50,115.40 L431.50,115.40 L432.50,115.51 L433.50,115.48 L434.50,115.04 L435.50,114.59 L436.50,114.54 L437.50,114.54 L438.50,114.26 L439.50,113.96 L440.50,113.89 L441.50,113.78 L442.50,113.36 L443.50,112.91 L444.50,112.71 L445.50,112.48 L446.50,111.94 L447.50,111.42 L448.50,111.27 L449.50,111.27 L450.50,111.16 L451.50,110.80 L452.50,110.05 L453.50,109.36 L454.50,109.22 L455.50,109.09 L456.50,108.45 L457.50,107.71 L458.50,107.25 L459.50,106.73 L460.50,105.79 L461.50,105.01 L462.50,104.94 L463.50,104.90 L464.50,104.19 L465.50,103.27 L466.50,102.60 L467.50,101.99 L468.50,101.23 L469.50,100.44 L470.50,99.73 L471.50,99.15 L472.50,98.76 L473.50,98.23 L474.50,97.25 L475.50,96.20 L476.50,95.48 L477.50,94.79 L478.50,93.80 L479.50,92.76 L480.50,91.89 L481.50,91.04 L482.50,90.01 L483.50,88.99 L484.50,88.15 L485.50,87.45 L486.50,86.90 L487.50,86.19 L488.50,85.04 L489.50,83.79 L490.50,82.75 L491.50,81.76 L492.50,80.68 L493.50,79.67 L494.50,78.92 L495.50,78.26 L496.50,77.50 L497.50,76.50 L498.50,75.16 L499.50,73.81 L500.50,72.82 L501.50,72.18 L502.50,71.89 L503.50,71.52 L504.50,70.64 L505.50,69.63 L506.50,68.85 L507.50,68.26 L508.50,67.79 L509.50,67.43 L510.50,67.14 L511.50,66.87 L512.50,66.58 L513.50,66.29 L514.50,65.98 L515.50,65.91 L516.50,66.32 L517.50,66.77 L518.50,66.83 L519.50,66.80 L520.50,66.97 L521.50,67.32 L522.50,67.84 L523.50,68.50 L524.50,69.24 L525.50,70.02 L526.50,70.82 L527.50,71.68 L528.50,72.65 L529.50,73.73 L530.50,74.92 L531.50,75.95 L532.50,76.57 L533.50,77.34 L534.50,78.82 L535.50,80.62 L536.50,82.37 L537.50,83.97 L538.50,85.36 L539.50,86.57 L540.50,87.64 L541.50,88.67 L542.50,89.76 L543.50,90.96 L544.50,92.29 L545.50,93.50 L546.50,94.33 L547.50,95.01 L548.50,95.78 L549.50,96.71 L550.50,97.92 L551.50,99.00 L552.50,99.54 L553.50,99.98 L554.50,100.79 L555.50,101.65 L556.50,102.29 L557.50,102.85 L558.50,103.48 L559.50,104.07 L560.50,104.52 L561.50,104.94 L562.50,105.46 L563.50,106.13 L564.50,107.02 L565.50,107.74 L566.50,107.95 L567.50,108.11 L568.50,108.68 L569.50,109.27 L570.50,109.50 L571.50,109.67 L572.50,110.09 L573.50,110.58 L574.50,110.99 L575.50,111.24 L576.50,111.28 L577.50,111.46 L578.50,112.10 L579.50,112.75 L580.50,112.92 L581.50,113.01 L582.50,113.43 L583.50,113.80 L584.50,113.75 L585.50,113.71 L586.50,114.08 L587.50,114.65 L588.50,115.15 L589.50,115.43 L590.50,115.35 L591.50,115.14 L592.50,115.06 L593.50,115.14 L594.50,115.42 L595.50,115.73 L596.50,115.87 L597.50,115.93 L598.50,116.00 L599.50,116.09 L600.50,116.22 L601.50,116.35 L602.50,116.40 L603.50,116.50 L604.50,116.76 L605.50,117.01 L606.50,117.05 L607.50,117.02 L608.50,117.02 L609.50,117.14 L610.50,117.47 L611.50,117.77 L612.50,117.77 L613.50,117.83 L614.50,118.29 L615.50,118.67 L616.50,118.48 L617.50,118.14 L618.50,118.05 L619.50,118.10 L620.50,118.19 L621.50,118.33 L622.50,118.55 L623.50,118.71 L624.50,118.69 L625.50,118.59 L626.50,118.53 L627.50,118.64 L628.50,119.07 L629.50,119.40 L630.50,119.18 L631.50,118.96 L632.50,119.26 L633.50,119.63 L634.50,119.63 L635.50,119.45 L636.50,119.29 L637.50,119.30 L638.50,119.64 L639.50,119.96 L640.50,119.89 L641.50,119.68 L642.50,119.57 L643.50,119.57 L644.50,119.71 L645.50,119.92 L646.50,120.13 L647.50,120.28 L648.50,120.29 L649.50,120.25 L650.50,120.28 L651.50,120.36 L652.50,120.51 L653.50,120.60 L654.50,120.51 L655.50,120.39 L656.50,120.41 L657.50,120.46 L658.50,120.46 L659.50,120.41 L660.50,120.31 L661.50,120.27 L662.50,120.39 L663.50,120.62 L664.50,120.87 L665.50,120.98 L666.50,120.75 L667.50,120.55 L668.50,120.75 L669.50,121.17" stroke="#000" stroke-width="3.60" fill="none" stroke-linejoin="round" stroke-linecap="butt"/>
<path d="M409.50,118.20 L410.00,118.14 L410.50,118.07 L411.00,118.01 L411.50,117.94 L412.00,117.88 L412.50,117.81 L413.00,117.75 L413.50,117.68 L414.00,117.62 L414.50,117.55 L415.00,117.49 L415.50,117.42 L416.00,117.36 L416.50,117.29 L417.00,117.22 L417.50,117.16 L418.00,117.09 L418.50,117.03 L419.00,116.96 L419.50,116.89 L420.00,116.83 L420.50,116.76 L421.00,116.69 L421.50,116.62 L422.00,116.56 L422.50,116.49 L423.00,116.42 L423.50,116.35 L424.00,116.28 L424.50,116.21 L425.00,116.14 L425.50,116.07 L426.00,116.00 L426.50,115.92 L427.00,115.85 L427.50,115.78 L428.00,115.70 L428.50,115.63 L429.00,115.55 L429.50,115.48 L430.00,115.40 L430.50,115.32 L431.00,115.24 L431.50,115.17 L432.00,115.09 L432.50,115.00 L433.00,114.92 L433.50,114.84 L434.00,114.75 L434.50,114.66 L435.00,114.58 L435.50,114.48 L436.00,114.39 L436.50,114.30 L437.00,114.20 L437.50,114.10 L438.00,114.00 L438.50,113.90 L439.00,113.79 L439.50,113.69 L440.00,113.58 L440.50,113.47 L441.00,113.35 L441.50,113.24 L442.00,113.12 L442.50,113.00 L443.00,112.88 L443.50,112.76 L444.00,112.63 L444.50,112.50 L445.00,112.36 L445.50,112.23 L446.00,112.09 L446.50,111.94 L447.00,111.80 L447.50,111.65 L448.00,111.49 L448.50,111.33 L449.00,111.17 L449.50,111.00 L450.00,110.83 L450.50,110.65 L451.00,110.47 L451.50,110.29 L452.00,110.10 L452.50,109.91 L453.00,109.71 L453.50,109.51 L454.00,109.30 L454.50,109.09 L455.00,108.88 L455.50,108.66 L456.00,108.44 L456.50,108.22 L457.00,107.99 L457.50,107.76 L458.00,107.52 L458.50,107.28 L459.00,107.04 L459.50,106.80 L460.00,106.55 L460.50,106.30 L461.00,106.04 L461.50,105.78 L462.00,105.52 L462.50,105.25 L463.00,104.98 L463.50,104.71 L464.00,104.43 L464.50,104.14 L465.00,103.85 L465.50,103.56 L466.00,103.26 L466.50,102.96 L467.00,102.65 L467.50,102.34 L468.00,102.02 L468.50,101.69 L469.00,101.37 L469.50,101.03 L470.00,100.69 L470.50,100.35 L471.00,100.00 L471.50,99.65 L472.00,99.29 L472.50,98.92 L473.00,98.55 L473.50,98.17 L474.00,97.78 L474.50,97.39 L475.00,96.99 L475.50,96.59 L476.00,96.18 L476.50,95.77 L477.00,95.35 L477.50,94.93 L478.00,94.51 L478.50,94.08 L479.00,93.65 L479.50,93.22 L480.00,92.78 L480.50,92.34 L481.00,91.90 L481.50,91.46 L482.00,91.02 L482.50,90.57 L483.00,90.13 L483.50,89.68 L484.00,89.23 L484.50,88.78 L485.00,88.33 L485.50,87.87 L486.00,87.42 L486.50,86.96 L487.00,86.51 L487.50,86.05 L488.00,85.59 L488.50,85.13 L489.00,84.68 L489.50,84.22 L490.00,83.77 L490.50,83.31 L491.00,82.86 L491.50,82.40 L492.00,81.95 L492.50,81.50 L493.00,81.05 L493.50,80.60 L494.00,80.16 L494.50,79.71 L495.00,79.27 L495.50,78.82 L496.00,78.38 L496.50,77.94 L497.00,77.51 L497.50,77.07 L498.00,76.64 L498.50,76.21 L499.00,75.78 L499.50,75.36 L500.00,74.94 L500.50,74.52 L501.00,74.11 L501.50,73.70 L502.00,73.31 L502.50,72.92 L503.00,72.53 L503.50,72.16 L504.00,71.80 L504.50,71.45 L505.00,71.11 L505.50,70.79 L506.00,70.48 L506.50,70.18 L507.00,69.90 L507.50,69.63 L508.00,69.38 L508.50,69.14 L509.00,68.92 L509.50,68.71 L510.00,68.52 L510.50,68.34 L511.00,68.18 L511.50,68.03 L512.00,67.90 L512.50,67.78 L513.00,67.68 L513.50,67.60 L514.00,67.53 L514.50,67.48 L515.00,67.44 L515.50,67.43 L516.00,67.43 L516.50,67.45 L517.00,67.49 L517.50,67.54 L518.00,67.62 L518.50,67.70 L519.00,67.81 L519.50,67.93 L520.00,68.06 L520.50,68.22 L521.00,68.39 L521.50,68.57 L522.00,68.77 L522.50,68.99 L523.00,69.22 L523.50,69.47 L524.00,69.74 L524.50,70.03 L525.00,70.34 L525.50,70.66 L526.00,71.00 L526.50,71.36 L527.00,71.74 L527.50,72.13 L528.00,72.54 L528.50,72.97 L529.00,73.41 L529.50,73.86 L530.00,74.33 L530.50,74.81 L531.00,75.31 L531.50,75.82 L532.00,76.34 L532.50,76.88 L533.00,77.43 L533.50,77.98 L534.00,78.55 L534.50,79.13 L535.00,79.72 L535.50,80.32 L536.00,80.92 L536.50,81.53 L537.00,82.14 L537.50,82.75 L538.00,83.37 L538.50,83.98 L539.00,84.58 L539.50,85.19 L540.00,85.78 L540.50,86.37 L541.00,86.95 L541.50,87.52 L542.00,88.08 L542.50,88.64 L543.00,89.18 L543.50,89.71 L544.00,90.23 L544.50,90.75 L545.00,91.25 L545.50,91.75 L546.00,92.23 L546.50,92.71 L547.00,93.18 L547.50,93.64 L548.00,94.10 L548.50,94.55 L549.00,94.99 L549.50,95.42 L550.00,95.85 L550.50,96.26 L551.00,96.68 L551.50,97.08 L552.00,97.48 L552.50,97.87 L553.00,98.26 L553.50,98.64 L554.00,99.02 L554.50,99.38 L555.00,99.75 L555.50,100.10 L556.00,100.45 L556.50,100.80 L557.00,101.13 L557.50,101.47 L558.00,101.79 L558.50,102.11 L559.00,102.43 L559.50,102.74 L560.00,103.04 L560.50,103.34 L561.00,103.64 L561.50,103.93 L562.00,104.22 L562.50,104.50 L563.00,104.78 L563.50,105.05 L564.00,105.32 L564.50,105.59 L565.00,105.85 L565.50,106.10 L566.00,106.35 L566.50,106.60 L567.00,106.84 L567.50,107.07 L568.00,107.30 L568.50,107.52 L569.00,107.73 L569.50,107.94 L570.00,108.15 L570.50,108.34 L571.00,108.54 L571.50,108.72 L572.00,108.90 L572.50,109.08 L573.00,109.26 L573.50,109.42 L574.00,109.59 L574.50,109.75 L575.00,109.91 L575.50,110.07 L576.00,110.22 L576.50,110.38 L577.00,110.53 L577.50,110.67 L578.00,110.82 L578.50,110.96 L579.00,111.10 L579.50,111.24 L580.00,111.38 L580.50,111.51 L581.00,111.64 L581.50,111.77 L582.00,111.90 L582.50,112.03 L583.00,112.15 L583.50,112.27 L584.00,112.39 L584.50,112.50 L585.00,112.61 L585.50,112.72 L586.00,112.83 L586.50,112.94 L587.00,113.04 L587.50,113.14 L588.00,113.24 L588.50,113.33 L589.00,113.42 L589.50,113.51 L590.00,113.60 L590.50,113.69 L591.00,113.77 L591.50,113.86 L592.00,113.94 L592.50,114.02 L593.00,114.09 L593.50,114.17 L594.00,114.24 L594.50,114.32 L595.00,114.39 L595.50,114.47 L596.00,114.54 L596.50,114.61 L597.00,114.68 L597.50,114.75 L598.00,114.82 L598.50,114.89 L599.00,114.96 L599.50,115.03 L600.00,115.09 L600.50,115.16 L601.00,115.23 L601.50,115.29 L602.00,115.36 L602.50,115.43 L603.00,115.49 L603.50,115.56 L604.00,115.62 L604.50,115.68 L605.00,115.75 L605.50,115.81 L606.00,115.87 L606.50,115.93 L607.00,115.99 L607.50,116.05 L608.00,116.11 L608.50,116.17 L609.00,116.23 L609.50,116.29 L610.00,116.34 L610.50,116.40 L611.00,116.45 L611.50,116.51 L612.00,116.56 L612.50,116.61 L613.00,116.66 L613.50,116.72 L614.00,116.77 L614.50,116.82 L615.00,116.87 L615.50,116.91 L616.00,116.96 L616.50,117.01 L617.00,117.06 L617.50,117.10 L618.00,117.15 L618.50,117.19 L619.00,117.24 L619.50,117.28 L620.00,117.32 L620.50,117.37 L621.00,117.41 L621.50,117.45 L622.00,117.49 L622.50,117.53 L623.00,117.58 L623.50,117.62 L624.00,117.66 L624.50,117.69 L625.00,117.73 L625.50,117.77 L626.00,117.81 L626.50,117.85 L627.00,117.88 L627.50,117.92 L628.00,117.96 L628.50,117.99 L629.00,118.03 L629.50,118.06 L630.00,118.10 L630.50,118.13 L631.00,118.16 L631.50,118.19 L632.00,118.23 L632.50,118.26 L633.00,118.29 L633.50,118.32 L634.00,118.35 L634.50,118.38 L635.00,118.41 L635.50,118.44 L636.00,118.47 L636.50,118.50 L637.00,118.52 L637.50,118.55 L638.00,118.58 L638.50,118.61 L639.00,118.64 L639.50,118.66 L640.00,118.69 L640.50,118.72 L641.00,118.74 L641.50,118.77 L642.00,118.80 L642.50,118.82 L643.00,118.85 L643.50,118.88 L644.00,118.90 L644.50,118.93 L645.00,118.95 L645.50,118.98 L646.00,119.01 L646.50,119.03 L647.00,119.06 L647.50,119.08 L648.00,119.10 L648.50,119.13 L649.00,119.15 L649.50,119.18 L650.00,119.20 L650.50,119.23 L651.00,119.25 L651.50,119.27 L652.00,119.30 L652.50,119.32 L653.00,119.34 L653.50,119.37 L654.00,119.39 L654.50,119.41 L655.00,119.43 L655.50,119.46 L656.00,119.48 L656.50,119.50 L657.00,119.53 L657.50,119.55 L658.00,119.57 L658.50,119.60 L659.00,119.62 L659.50,119.65 L660.00,119.67 L660.50,119.69 L661.00,119.72 L661.50,119.74 L662.00,119.77 L662.50,119.79 L663.00,119.82 L663.50,119.84 L664.00,119.87 L664.50,119.89 L665.00,119.92 L665.50,119.94 L666.00,119.97 L666.50,119.99 L667.00,120.02 L667.50,120.04 L668.00,120.07 L668.50,120.10 L669.00,120.12 L669.50,120.15 L670.00,120.17 L670.50,120.20" stroke="#e30808" stroke-width="2.50" fill="none" stroke-linejoin="round" stroke-linecap="butt"/>
<path d="M64.00,296.00 L64.50,295.99 L65.00,295.98 L65.50,295.97 L66.00,295.96 L66.50,295.95 L67.00,295.94 L67.50,295.93 L68.00,295.92 L68.50,295.91 L69.00,295.90 L69.50,295.89 L70.00,295.88 L70.50,295.87 L71.00,295.86 L71.50,295.85 L72.00,295.84 L72.50,295.83 L73.00,295.82 L73.50,295.81 L74.00,295.80 L74.50,295.79 L75.00,295.78 L75.50,295.77 L76.00,295.76 L76.50,295.75 L77.00,295.75 L77.50,295.74 L78.00,295.73 L78.50,295.72 L79.00,295.71 L79.50,295.70 L80.00,295.69 L80.50,295.68 L81.00,295.67 L81.50,295.66 L82.00,295.65 L82.50,295.63 L83.00,295.62 L83.50,295.61 L84.00,295.60 L84.50,295.59 L85.00,295.58 L85.50,295.57 L86.00,295.56 L86.50,295.55 L87.00,295.54 L87.50,295.53 L88.00,295.52 L88.50,295.51 L89.00,295.50 L89.50,295.49 L90.00,295.47 L90.50,295.46 L91.00,295.45 L91.50,295.44 L92.00,295.43 L92.50,295.42 L93.00,295.41 L93.50,295.39 L94.00,295.38 L94.50,295.37 L95.00,295.36 L95.50,295.34 L96.00,295.33 L96.50,295.32 L97.00,295.31 L97.50,295.29 L98.00,295.28 L98.50,295.27 L99.00,295.25 L99.50,295.24 L100.00,295.22 L100.50,295.21 L101.00,295.20 L101.50,295.18 L102.00,295.17 L102.50,295.15 L103.00,295.14 L103.50,295.12 L104.00,295.10 L104.50,295.09 L105.00,295.07 L105.50,295.06 L106.00,295.04 L106.50,295.02 L107.00,295.01 L107.50,294.99 L108.00,294.97 L108.50,294.95 L109.00,294.94 L109.50,294.92 L110.00,294.90 L110.50,294.88 L111.00,294.87 L111.50,294.85 L112.00,294.83 L112.50,294.81 L113.00,294.79 L113.50,294.77 L114.00,294.75 L114.50,294.74 L115.00,294.72 L115.50,294.70 L116.00,294.68 L116.50,294.66 L117.00,294.64 L117.50,294.62 L118.00,294.60 L118.50,294.58 L119.00,294.56 L119.50,294.54 L120.00,294.52 L120.50,294.50 L121.00,294.48 L121.50,294.45 L122.00,294.43 L122.50,294.41 L123.00,294.39 L123.50,294.37 L124.00,294.35 L124.50,294.33 L125.00,294.30 L125.50,294.28 L126.00,294.26 L126.50,294.24 L127.00,294.21 L127.50,294.19 L128.00,294.17 L128.50,294.14 L129.00,294.12 L129.50,294.10 L130.00,294.07 L130.50,294.05 L131.00,294.02 L131.50,294.00 L132.00,293.97 L132.50,293.95 L133.00,293.92 L133.50,293.90 L134.00,293.87 L134.50,293.85 L135.00,293.82 L135.50,293.79 L136.00,293.77 L136.50,293.74 L137.00,293.71 L137.50,293.68 L138.00,293.65 L138.50,293.62 L139.00,293.58 L139.50,293.55 L140.00,293.51 L140.50,293.47 L141.00,293.43 L141.50,293.38 L142.00,293.33 L142.50,293.28 L143.00,293.23 L143.50,293.17 L144.00,293.11 L144.50,293.05 L145.00,292.99 L145.50,292.92 L146.00,292.85 L146.50,292.77 L147.00,292.69 L147.50,292.61 L148.00,292.53 L148.50,292.44 L149.00,292.34 L149.50,292.25 L150.00,292.15 L150.50,292.04 L151.00,291.94 L151.50,291.83 L152.00,291.71 L152.50,291.60 L153.00,291.48 L153.50,291.36 L154.00,291.24 L154.50,291.12 L155.00,291.00 L155.50,290.87 L156.00,290.75 L156.50,290.62 L157.00,290.49 L157.50,290.36 L158.00,290.23 L158.50,290.10 L159.00,289.96 L159.50,289.82 L160.00,289.68 L160.50,289.54 L161.00,289.40 L161.50,289.25 L162.00,289.10 L162.50,288.94 L163.00,288.78 L163.50,288.62 L164.00,288.45 L164.50,288.28 L165.00,288.11 L165.50,287.93 L166.00,287.75 L166.50,287.56 L167.00,287.38 L167.50,287.18 L168.00,286.99 L168.50,286.79 L169.00,286.60 L169.50,286.39 L170.00,286.19 L170.50,285.97 L171.00,285.76 L171.50,285.54 L172.00,285.31 L172.50,285.08 L173.00,284.84 L173.50,284.60 L174.00,284.34 L174.50,284.08 L175.00,283.80 L175.50,283.52 L176.00,283.23 L176.50,282.92 L177.00,282.61 L177.50,282.28 L178.00,281.94 L178.50,281.58 L179.00,281.22 L179.50,280.84 L180.00,280.46 L180.50,280.06 L181.00,279.65 L181.50,279.22 L182.00,278.79 L182.50,278.34 L183.00,277.88 L183.50,277.41 L184.00,276.93 L184.50,276.44 L185.00,275.92 L185.50,275.40 L186.00,274.85 L186.50,274.29 L187.00,273.71 L187.50,273.10 L188.00,272.48 L188.50,271.83 L189.00,271.15 L189.50,270.45 L190.00,269.71 L190.50,268.94 L191.00,268.13 L191.50,267.27 L192.00,266.36 L192.50,265.40 L193.00,264.39 L193.50,263.34 L194.00,262.25 L194.50,261.13 L195.00,260.00 L195.50,258.84 L196.00,257.67 L196.50,256.48 L197.00,255.28 L197.50,254.05 L198.00,252.80 L198.50,251.52 L199.00,250.20 L199.50,248.83 L200.00,247.42 L200.50,245.96 L201.00,244.46 L201.50,242.94 L202.00,241.41 L202.50,239.90 L203.00,238.44 L203.50,237.04 L204.00,235.72 L204.50,234.49 L205.00,233.35 L205.50,232.31 L206.00,231.35 L206.50,230.47 L207.00,229.68 L207.50,228.97 L208.00,228.34 L208.50,227.79 L209.00,227.32 L209.50,226.93 L210.00,226.62 L210.50,226.38 L211.00,226.21 L211.50,226.12 L212.00,226.09 L212.50,226.12 L213.00,226.22 L213.50,226.38 L214.00,226.59 L214.50,226.85 L215.00,227.17 L215.50,227.54 L216.00,227.95 L216.50,228.42 L217.00,228.93 L217.50,229.48 L218.00,230.09 L218.50,230.74 L219.00,231.42 L219.50,232.15 L220.00,232.92 L220.50,233.73 L221.00,234.58 L221.50,235.46 L222.00,236.38 L222.50,237.33 L223.00,238.31 L223.50,239.32 L224.00,240.36 L224.50,241.43 L225.00,242.52 L225.50,243.63 L226.00,244.77 L226.50,245.92 L227.00,247.08 L227.50,248.25 L228.00,249.41 L228.50,250.57 L229.00,251.72 L229.50,252.85 L230.00,253.98 L230.50,255.10 L231.00,256.21 L231.50,257.31 L232.00,258.41 L232.50,259.51 L233.00,260.60 L233.50,261.68 L234.00,262.76 L234.50,263.81 L235.00,264.85 L235.50,265.85 L236.00,266.81 L236.50,267.73 L237.00,268.61 L237.50,269.44 L238.00,270.23 L238.50,270.98 L239.00,271.70 L239.50,272.38 L240.00,273.04 L240.50,273.67 L241.00,274.28 L241.50,274.88 L242.00,275.45 L242.50,276.02 L243.00,276.57 L243.50,277.11 L244.00,277.63 L244.50,278.15 L245.00,278.65 L245.50,279.14 L246.00,279.62 L246.50,280.08 L247.00,280.53 L247.50,280.97 L248.00,281.39 L248.50,281.79 L249.00,282.18 L249.50,282.56 L250.00,282.92 L250.50,283.27 L251.00,283.60 L251.50,283.93 L252.00,284.24 L252.50,284.54 L253.00,284.83 L253.50,285.11 L254.00,285.38 L254.50,285.65 L255.00,285.91 L255.50,286.17 L256.00,286.42 L256.50,286.66 L257.00,286.90 L257.50,287.13 L258.00,287.36 L258.50,287.58 L259.00,287.80 L259.50,288.01 L260.00,288.21 L260.50,288.41 L261.00,288.61 L261.50,288.79 L262.00,288.97 L262.50,289.15 L263.00,289.31 L263.50,289.48 L264.00,289.64 L264.50,289.79 L265.00,289.93 L265.50,290.08 L266.00,290.21 L266.50,290.35 L267.00,290.47 L267.50,290.59 L268.00,290.71 L268.50,290.82 L269.00,290.93 L269.50,291.04 L270.00,291.14 L270.50,291.24 L271.00,291.34 L271.50,291.44 L272.00,291.53 L272.50,291.62 L273.00,291.71 L273.50,291.80 L274.00,291.89 L274.50,291.98 L275.00,292.06 L275.50,292.15 L276.00,292.23 L276.50,292.31 L277.00,292.39 L277.50,292.47 L278.00,292.54 L278.50,292.62 L279.00,292.69 L279.50,292.76 L280.00,292.83 L280.50,292.90 L281.00,292.96 L281.50,293.03 L282.00,293.09 L282.50,293.15 L283.00,293.21 L283.50,293.27 L284.00,293.32 L284.50,293.36 L285.00,293.41 L285.50,293.45 L286.00,293.48 L286.50,293.51 L287.00,293.54 L287.50,293.57 L288.00,293.60 L288.50,293.62 L289.00,293.65 L289.50,293.67 L290.00,293.70 L290.50,293.73 L291.00,293.76 L291.50,293.78 L292.00,293.81 L292.50,293.84 L293.00,293.87 L293.50,293.90 L294.00,293.92 L294.50,293.95 L295.00,293.98 L295.50,294.01 L296.00,294.04 L296.50,294.06 L297.00,294.09 L297.50,294.12 L298.00,294.15 L298.50,294.17 L299.00,294.20 L299.50,294.23 L300.00,294.26 L300.50,294.28 L301.00,294.31 L301.50,294.34 L302.00,294.37 L302.50,294.39 L303.00,294.42 L303.50,294.45 L304.00,294.48 L304.50,294.50 L305.00,294.53 L305.50,294.56 L306.00,294.58 L306.50,294.61 L307.00,294.64 L307.50,294.66 L308.00,294.69 L308.50,294.72 L309.00,294.74 L309.50,294.77 L310.00,294.80 L310.50,294.82 L311.00,294.85 L311.50,294.88 L312.00,294.90 L312.50,294.93 L313.00,294.95 L313.50,294.98 L314.00,295.00 L314.50,295.03 L315.00,295.05 L315.50,295.08 L316.00,295.10 L316.50,295.12 L317.00,295.15 L317.50,295.17 L318.00,295.19 L318.50,295.21 L319.00,295.23 L319.50,295.25 L320.00,295.27 L320.50,295.29 L321.00,295.31 L321.50,295.33 L322.00,295.35 L322.50,295.37 L323.00,295.39 L323.50,295.41 L324.00,295.43 L324.50,295.44 L325.00,295.46 L325.50,295.48 L326.00,295.50" stroke="#000" stroke-width="2.50" fill="none" stroke-linejoin="round" stroke-linecap="butt"/>
<path d="M64.00,295.60 L64.50,295.58 L65.00,295.57 L65.50,295.55 L66.00,295.54 L66.50,295.52 L67.00,295.51 L67.50,295.49 L68.00,295.48 L68.50,295.46 L69.00,295.45 L69.50,295.43 L70.00,295.41 L70.50,295.40 L71.00,295.38 L71.50,295.37 L72.00,295.35 L72.50,295.34 L73.00,295.32 L73.50,295.31 L74.00,295.29 L74.50,295.28 L75.00,295.26 L75.50,295.25 L76.00,295.23 L76.50,295.22 L77.00,295.20 L77.50,295.19 L78.00,295.17 L78.50,295.16 L79.00,295.14 L79.50,295.13 L80.00,295.11 L80.50,295.09 L81.00,295.08 L81.50,295.06 L82.00,295.05 L82.50,295.03 L83.00,295.02 L83.50,295.00 L84.00,294.99 L84.50,294.97 L85.00,294.95 L85.50,294.94 L86.00,294.92 L86.50,294.91 L87.00,294.89 L87.50,294.87 L88.00,294.86 L88.50,294.84 L89.00,294.82 L89.50,294.81 L90.00,294.79 L90.50,294.77 L91.00,294.76 L91.50,294.74 L92.00,294.72 L92.50,294.71 L93.00,294.69 L93.50,294.67 L94.00,294.65 L94.50,294.64 L95.00,294.62 L95.50,294.60 L96.00,294.58 L96.50,294.57 L97.00,294.55 L97.50,294.53 L98.00,294.51 L98.50,294.49 L99.00,294.47 L99.50,294.45 L100.00,294.43 L100.50,294.41 L101.00,294.39 L101.50,294.37 L102.00,294.35 L102.50,294.33 L103.00,294.31 L103.50,294.29 L104.00,294.27 L104.50,294.25 L105.00,294.23 L105.50,294.21 L106.00,294.18 L106.50,294.16 L107.00,294.14 L107.50,294.12 L108.00,294.10 L108.50,294.07 L109.00,294.05 L109.50,294.03 L110.00,294.00 L110.50,293.98 L111.00,293.96 L111.50,293.93 L112.00,293.91 L112.50,293.89 L113.00,293.86 L113.50,293.84 L114.00,293.81 L114.50,293.79 L115.00,293.76 L115.50,293.74 L116.00,293.71 L116.50,293.69 L117.00,293.66 L117.50,293.64 L118.00,293.61 L118.50,293.59 L119.00,293.56 L119.50,293.54 L120.00,293.51 L120.50,293.49 L121.00,293.46 L121.50,293.43 L122.00,293.41 L122.50,293.38 L123.00,293.36 L123.50,293.33 L124.00,293.30 L124.50,293.28 L125.00,293.25 L125.50,293.22 L126.00,293.20 L126.50,293.17 L127.00,293.14 L127.50,293.12 L128.00,293.09 L128.50,293.06 L129.00,293.04 L129.50,293.01 L130.00,292.98 L130.50,292.95 L131.00,292.93 L131.50,292.90 L132.00,292.88 L132.50,292.85 L133.00,292.82 L133.50,292.80 L134.00,292.78 L134.50,292.75 L135.00,292.73 L135.50,292.71 L136.00,292.68 L136.50,292.66 L137.00,292.64 L137.50,292.62 L138.00,292.59 L138.50,292.57 L139.00,292.54 L139.50,292.52 L140.00,292.49 L140.50,292.45 L141.00,292.42 L141.50,292.38 L142.00,292.34 L142.50,292.29 L143.00,292.24 L143.50,292.18 L144.00,292.12 L144.50,292.05 L145.00,291.97 L145.50,291.89 L146.00,291.80 L146.50,291.71 L147.00,291.61 L147.50,291.50 L148.00,291.39 L148.50,291.27 L149.00,291.14 L149.50,291.01 L150.00,290.88 L150.50,290.74 L151.00,290.60 L151.50,290.45 L152.00,290.30 L152.50,290.16 L153.00,290.01 L153.50,289.86 L154.00,289.71 L154.50,289.57 L155.00,289.42 L155.50,289.28 L156.00,289.14 L156.50,289.01 L157.00,288.87 L157.50,288.73 L158.00,288.60 L158.50,288.46 L159.00,288.33 L159.50,288.19 L160.00,288.05 L160.50,287.91 L161.00,287.77 L161.50,287.63 L162.00,287.48 L162.50,287.33 L163.00,287.17 L163.50,287.01 L164.00,286.85 L164.50,286.68 L165.00,286.50 L165.50,286.32 L166.00,286.13 L166.50,285.93 L167.00,285.72 L167.50,285.51 L168.00,285.29 L168.50,285.06 L169.00,284.82 L169.50,284.58 L170.00,284.33 L170.50,284.07 L171.00,283.81 L171.50,283.54 L172.00,283.26 L172.50,282.98 L173.00,282.69 L173.50,282.39 L174.00,282.09 L174.50,281.78 L175.00,281.47 L175.50,281.14 L176.00,280.80 L176.50,280.46 L177.00,280.10 L177.50,279.73 L178.00,279.35 L178.50,278.96 L179.00,278.55 L179.50,278.12 L180.00,277.69 L180.50,277.24 L181.00,276.77 L181.50,276.29 L182.00,275.80 L182.50,275.29 L183.00,274.77 L183.50,274.24 L184.00,273.69 L184.50,273.13 L185.00,272.57 L185.50,271.99 L186.00,271.40 L186.50,270.79 L187.00,270.18 L187.50,269.56 L188.00,268.92 L188.50,268.27 L189.00,267.60 L189.50,266.91 L190.00,266.21 L190.50,265.48 L191.00,264.72 L191.50,263.93 L192.00,263.10 L192.50,262.24 L193.00,261.35 L193.50,260.43 L194.00,259.49 L194.50,258.53 L195.00,257.57 L195.50,256.63 L196.00,255.69 L196.50,254.78 L197.00,253.89 L197.50,253.03 L198.00,252.21 L198.50,251.42 L199.00,250.68 L199.50,249.98 L200.00,249.34 L200.50,248.75 L201.00,248.21 L201.50,247.71 L202.00,247.26 L202.50,246.85 L203.00,246.47 L203.50,246.12 L204.00,245.81 L204.50,245.52 L205.00,245.26 L205.50,245.03 L206.00,244.84 L206.50,244.69 L207.00,244.57 L207.50,244.50 L208.00,244.47 L208.50,244.47 L209.00,244.52 L209.50,244.60 L210.00,244.71 L210.50,244.85 L211.00,245.02 L211.50,245.22 L212.00,245.45 L212.50,245.69 L213.00,245.97 L213.50,246.26 L214.00,246.57 L214.50,246.89 L215.00,247.24 L215.50,247.59 L216.00,247.96 L216.50,248.34 L217.00,248.74 L217.50,249.15 L218.00,249.58 L218.50,250.03 L219.00,250.50 L219.50,250.99 L220.00,251.50 L220.50,252.03 L221.00,252.58 L221.50,253.14 L222.00,253.72 L222.50,254.31 L223.00,254.91 L223.50,255.51 L224.00,256.12 L224.50,256.73 L225.00,257.34 L225.50,257.95 L226.00,258.56 L226.50,259.17 L227.00,259.78 L227.50,260.38 L228.00,260.99 L228.50,261.59 L229.00,262.19 L229.50,262.78 L230.00,263.36 L230.50,263.94 L231.00,264.50 L231.50,265.05 L232.00,265.60 L232.50,266.13 L233.00,266.65 L233.50,267.17 L234.00,267.67 L234.50,268.17 L235.00,268.66 L235.50,269.15 L236.00,269.64 L236.50,270.12 L237.00,270.61 L237.50,271.09 L238.00,271.56 L238.50,272.04 L239.00,272.52 L239.50,272.98 L240.00,273.45 L240.50,273.90 L241.00,274.34 L241.50,274.78 L242.00,275.20 L242.50,275.60 L243.00,276.00 L243.50,276.38 L244.00,276.76 L244.50,277.12 L245.00,277.47 L245.50,277.82 L246.00,278.15 L246.50,278.48 L247.00,278.80 L247.50,279.12 L248.00,279.43 L248.50,279.73 L249.00,280.03 L249.50,280.32 L250.00,280.60 L250.50,280.89 L251.00,281.16 L251.50,281.43 L252.00,281.70 L252.50,281.96 L253.00,282.22 L253.50,282.47 L254.00,282.72 L254.50,282.96 L255.00,283.20 L255.50,283.44 L256.00,283.67 L256.50,283.90 L257.00,284.12 L257.50,284.33 L258.00,284.54 L258.50,284.75 L259.00,284.95 L259.50,285.14 L260.00,285.33 L260.50,285.52 L261.00,285.70 L261.50,285.87 L262.00,286.04 L262.50,286.21 L263.00,286.38 L263.50,286.55 L264.00,286.71 L264.50,286.87 L265.00,287.04 L265.50,287.20 L266.00,287.36 L266.50,287.52 L267.00,287.68 L267.50,287.84 L268.00,287.99 L268.50,288.15 L269.00,288.30 L269.50,288.45 L270.00,288.61 L270.50,288.75 L271.00,288.90 L271.50,289.05 L272.00,289.19 L272.50,289.33 L273.00,289.47 L273.50,289.60 L274.00,289.73 L274.50,289.86 L275.00,289.99 L275.50,290.11 L276.00,290.23 L276.50,290.35 L277.00,290.46 L277.50,290.57 L278.00,290.68 L278.50,290.79 L279.00,290.89 L279.50,291.00 L280.00,291.10 L280.50,291.20 L281.00,291.29 L281.50,291.39 L282.00,291.48 L282.50,291.58 L283.00,291.67 L283.50,291.76 L284.00,291.84 L284.50,291.93 L285.00,292.01 L285.50,292.08 L286.00,292.15 L286.50,292.22 L287.00,292.29 L287.50,292.34 L288.00,292.40 L288.50,292.45 L289.00,292.50 L289.50,292.55 L290.00,292.60 L290.50,292.64 L291.00,292.69 L291.50,292.73 L292.00,292.78 L292.50,292.82 L293.00,292.86 L293.50,292.91 L294.00,292.95 L294.50,292.99 L295.00,293.03 L295.50,293.07 L296.00,293.11 L296.50,293.15 L297.00,293.19 L297.50,293.23 L298.00,293.26 L298.50,293.30 L299.00,293.34 L299.50,293.37 L300.00,293.41 L300.50,293.44 L301.00,293.48 L301.50,293.51 L302.00,293.54 L302.50,293.58 L303.00,293.61 L303.50,293.64 L304.00,293.67 L304.50,293.70 L305.00,293.73 L305.50,293.76 L306.00,293.79 L306.50,293.82 L307.00,293.85 L307.50,293.88 L308.00,293.90 L308.50,293.93 L309.00,293.96 L309.50,293.98 L310.00,294.01 L310.50,294.04 L311.00,294.06 L311.50,294.09 L312.00,294.11 L312.50,294.14 L313.00,294.16 L313.50,294.19 L314.00,294.21 L314.50,294.24 L315.00,294.26 L315.50,294.29 L316.00,294.31 L316.50,294.34 L317.00,294.36 L317.50,294.39 L318.00,294.41 L318.50,294.44 L319.00,294.46 L319.50,294.48 L320.00,294.51 L320.50,294.53 L321.00,294.56 L321.50,294.58 L322.00,294.60 L322.50,294.63 L323.00,294.65 L323.50,294.68 L324.00,294.70 L324.50,294.73 L325.00,294.75 L325.50,294.78 L326.00,294.80" stroke="#e30808" stroke-width="2.50" fill="none" stroke-linejoin="round" stroke-linecap="butt"/>
<path d="M409.50,295.00 L410.00,294.97 L410.50,294.95 L411.00,294.92 L411.50,294.90 L412.00,294.88 L412.50,294.85 L413.00,294.83 L413.50,294.80 L414.00,294.78 L414.50,294.75 L415.00,294.73 L415.50,294.70 L416.00,294.68 L416.50,294.65 L417.00,294.63 L417.50,294.60 L418.00,294.57 L418.50,294.55 L419.00,294.52 L419.50,294.50 L420.00,294.47 L420.50,294.44 L421.00,294.41 L421.50,294.39 L422.00,294.36 L422.50,294.33 L423.00,294.30 L423.50,294.27 L424.00,294.24 L424.50,294.21 L425.00,294.18 L425.50,294.15 L426.00,294.11 L426.50,294.08 L427.00,294.05 L427.50,294.01 L428.00,293.98 L428.50,293.94 L429.00,293.91 L429.50,293.87 L430.00,293.83 L430.50,293.80 L431.00,293.76 L431.50,293.72 L432.00,293.68 L432.50,293.64 L433.00,293.60 L433.50,293.56 L434.00,293.52 L434.50,293.48 L435.00,293.44 L435.50,293.40 L436.00,293.35 L436.50,293.31 L437.00,293.27 L437.50,293.22 L438.00,293.18 L438.50,293.14 L439.00,293.09 L439.50,293.05 L440.00,293.00 L440.50,292.96 L441.00,292.91 L441.50,292.87 L442.00,292.82 L442.50,292.77 L443.00,292.73 L443.50,292.68 L444.00,292.63 L444.50,292.58 L445.00,292.53 L445.50,292.48 L446.00,292.43 L446.50,292.38 L447.00,292.33 L447.50,292.28 L448.00,292.23 L448.50,292.17 L449.00,292.12 L449.50,292.06 L450.00,292.01 L450.50,291.95 L451.00,291.90 L451.50,291.84 L452.00,291.79 L452.50,291.73 L453.00,291.67 L453.50,291.61 L454.00,291.55 L454.50,291.50 L455.00,291.44 L455.50,291.38 L456.00,291.32 L456.50,291.26 L457.00,291.20 L457.50,291.13 L458.00,291.07 L458.50,291.01 L459.00,290.94 L459.50,290.87 L460.00,290.81 L460.50,290.74 L461.00,290.67 L461.50,290.59 L462.00,290.52 L462.50,290.44 L463.00,290.37 L463.50,290.29 L464.00,290.21 L464.50,290.13 L465.00,290.04 L465.50,289.96 L466.00,289.87 L466.50,289.78 L467.00,289.69 L467.50,289.60 L468.00,289.51 L468.50,289.41 L469.00,289.32 L469.50,289.22 L470.00,289.13 L470.50,289.03 L471.00,288.93 L471.50,288.83 L472.00,288.73 L472.50,288.62 L473.00,288.52 L473.50,288.42 L474.00,288.31 L474.50,288.21 L475.00,288.10 L475.50,287.99 L476.00,287.88 L476.50,287.77 L477.00,287.66 L477.50,287.55 L478.00,287.43 L478.50,287.31 L479.00,287.19 L479.50,287.07 L480.00,286.94 L480.50,286.82 L481.00,286.69 L481.50,286.55 L482.00,286.42 L482.50,286.29 L483.00,286.15 L483.50,286.01 L484.00,285.88 L484.50,285.74 L485.00,285.61 L485.50,285.47 L486.00,285.34 L486.50,285.21 L487.00,285.08 L487.50,284.95 L488.00,284.82 L488.50,284.69 L489.00,284.57 L489.50,284.44 L490.00,284.32 L490.50,284.19 L491.00,284.06 L491.50,283.94 L492.00,283.81 L492.50,283.68 L493.00,283.54 L493.50,283.41 L494.00,283.27 L494.50,283.13 L495.00,282.99 L495.50,282.84 L496.00,282.69 L496.50,282.53 L497.00,282.37 L497.50,282.21 L498.00,282.04 L498.50,281.86 L499.00,281.68 L499.50,281.49 L500.00,281.29 L500.50,281.09 L501.00,280.89 L501.50,280.68 L502.00,280.47 L502.50,280.26 L503.00,280.04 L503.50,279.82 L504.00,279.60 L504.50,279.37 L505.00,279.15 L505.50,278.91 L506.00,278.67 L506.50,278.43 L507.00,278.18 L507.50,277.92 L508.00,277.66 L508.50,277.39 L509.00,277.11 L509.50,276.83 L510.00,276.53 L510.50,276.23 L511.00,275.93 L511.50,275.62 L512.00,275.30 L512.50,274.98 L513.00,274.66 L513.50,274.33 L514.00,273.99 L514.50,273.65 L515.00,273.31 L515.50,272.96 L516.00,272.61 L516.50,272.25 L517.00,271.89 L517.50,271.52 L518.00,271.15 L518.50,270.77 L519.00,270.38 L519.50,269.99 L520.00,269.60 L520.50,269.19 L521.00,268.78 L521.50,268.36 L522.00,267.94 L522.50,267.50 L523.00,267.06 L523.50,266.60 L524.00,266.13 L524.50,265.64 L525.00,265.14 L525.50,264.63 L526.00,264.09 L526.50,263.53 L527.00,262.95 L527.50,262.34 L528.00,261.70 L528.50,261.03 L529.00,260.33 L529.50,259.59 L530.00,258.81 L530.50,258.00 L531.00,257.14 L531.50,256.23 L532.00,255.27 L532.50,254.26 L533.00,253.20 L533.50,252.07 L534.00,250.89 L534.50,249.64 L535.00,248.34 L535.50,246.99 L536.00,245.59 L536.50,244.16 L537.00,242.72 L537.50,241.29 L538.00,239.88 L538.50,238.51 L539.00,237.21 L539.50,235.96 L540.00,234.79 L540.50,233.70 L541.00,232.68 L541.50,231.74 L542.00,230.88 L542.50,230.08 L543.00,229.33 L543.50,228.63 L544.00,227.97 L544.50,227.33 L545.00,226.71 L545.50,226.10 L546.00,225.50 L546.50,224.89 L547.00,224.28 L547.50,223.65 L548.00,223.02 L548.50,222.38 L549.00,221.73 L549.50,221.08 L550.00,220.44 L550.50,219.81 L551.00,219.20 L551.50,218.62 L552.00,218.07 L552.50,217.55 L553.00,217.07 L553.50,216.61 L554.00,216.20 L554.50,215.81 L555.00,215.45 L555.50,215.12 L556.00,214.82 L556.50,214.56 L557.00,214.33 L557.50,214.13 L558.00,213.97 L558.50,213.86 L559.00,213.78 L559.50,213.75 L560.00,213.76 L560.50,213.81 L561.00,213.90 L561.50,214.03 L562.00,214.20 L562.50,214.40 L563.00,214.63 L563.50,214.90 L564.00,215.20 L564.50,215.52 L565.00,215.88 L565.50,216.26 L566.00,216.67 L566.50,217.10 L567.00,217.56 L567.50,218.04 L568.00,218.54 L568.50,219.05 L569.00,219.58 L569.50,220.11 L570.00,220.65 L570.50,221.20 L571.00,221.75 L571.50,222.31 L572.00,222.87 L572.50,223.43 L573.00,224.00 L573.50,224.57 L574.00,225.15 L574.50,225.74 L575.00,226.33 L575.50,226.94 L576.00,227.56 L576.50,228.20 L577.00,228.86 L577.50,229.55 L578.00,230.27 L578.50,231.04 L579.00,231.84 L579.50,232.68 L580.00,233.55 L580.50,234.42 L581.00,235.30 L581.50,236.18 L582.00,237.04 L582.50,237.88 L583.00,238.71 L583.50,239.52 L584.00,240.32 L584.50,241.11 L585.00,241.88 L585.50,242.64 L586.00,243.39 L586.50,244.13 L587.00,244.85 L587.50,245.57 L588.00,246.27 L588.50,246.97 L589.00,247.66 L589.50,248.34 L590.00,249.02 L590.50,249.68 L591.00,250.34 L591.50,250.99 L592.00,251.63 L592.50,252.27 L593.00,252.89 L593.50,253.51 L594.00,254.12 L594.50,254.73 L595.00,255.33 L595.50,255.92 L596.00,256.51 L596.50,257.09 L597.00,257.67 L597.50,258.24 L598.00,258.81 L598.50,259.38 L599.00,259.93 L599.50,260.49 L600.00,261.04 L600.50,261.58 L601.00,262.11 L601.50,262.64 L602.00,263.16 L602.50,263.67 L603.00,264.18 L603.50,264.68 L604.00,265.17 L604.50,265.66 L605.00,266.15 L605.50,266.62 L606.00,267.10 L606.50,267.56 L607.00,268.02 L607.50,268.47 L608.00,268.91 L608.50,269.34 L609.00,269.77 L609.50,270.18 L610.00,270.59 L610.50,270.99 L611.00,271.38 L611.50,271.77 L612.00,272.14 L612.50,272.52 L613.00,272.88 L613.50,273.24 L614.00,273.60 L614.50,273.95 L615.00,274.29 L615.50,274.63 L616.00,274.96 L616.50,275.28 L617.00,275.60 L617.50,275.91 L618.00,276.21 L618.50,276.50 L619.00,276.79 L619.50,277.07 L620.00,277.35 L620.50,277.61 L621.00,277.87 L621.50,278.13 L622.00,278.38 L622.50,278.62 L623.00,278.86 L623.50,279.09 L624.00,279.32 L624.50,279.54 L625.00,279.77 L625.50,279.98 L626.00,280.20 L626.50,280.41 L627.00,280.62 L627.50,280.82 L628.00,281.02 L628.50,281.21 L629.00,281.41 L629.50,281.60 L630.00,281.78 L630.50,281.97 L631.00,282.15 L631.50,282.33 L632.00,282.51 L632.50,282.68 L633.00,282.85 L633.50,283.02 L634.00,283.19 L634.50,283.35 L635.00,283.52 L635.50,283.68 L636.00,283.83 L636.50,283.98 L637.00,284.14 L637.50,284.28 L638.00,284.43 L638.50,284.57 L639.00,284.71 L639.50,284.85 L640.00,284.99 L640.50,285.13 L641.00,285.27 L641.50,285.40 L642.00,285.54 L642.50,285.68 L643.00,285.82 L643.50,285.95 L644.00,286.09 L644.50,286.23 L645.00,286.37 L645.50,286.51 L646.00,286.64 L646.50,286.78 L647.00,286.90 L647.50,287.03 L648.00,287.15 L648.50,287.26 L649.00,287.38 L649.50,287.49 L650.00,287.59 L650.50,287.70 L651.00,287.81 L651.50,287.91 L652.00,288.01 L652.50,288.12 L653.00,288.22 L653.50,288.32 L654.00,288.42 L654.50,288.52 L655.00,288.62 L655.50,288.72 L656.00,288.82 L656.50,288.92 L657.00,289.02 L657.50,289.12 L658.00,289.22 L658.50,289.32 L659.00,289.42 L659.50,289.52 L660.00,289.62 L660.50,289.72 L661.00,289.82 L661.50,289.92 L662.00,290.02 L662.50,290.12 L663.00,290.22 L663.50,290.32 L664.00,290.41 L664.50,290.51 L665.00,290.61 L665.50,290.71 L666.00,290.81 L666.50,290.91 L667.00,291.01 L667.50,291.11 L668.00,291.20 L668.50,291.30 L669.00,291.40 L669.50,291.50 L670.00,291.60 L670.50,291.70" stroke="#000" stroke-width="2.50" fill="none" stroke-linejoin="round" stroke-linecap="butt"/>
<path d="M409.50,293.00 L410.00,292.98 L410.50,292.96 L411.00,292.94 L411.50,292.91 L412.00,292.89 L412.50,292.87 L413.00,292.85 L413.50,292.83 L414.00,292.81 L414.50,292.79 L415.00,292.77 L415.50,292.75 L416.00,292.72 L416.50,292.70 L417.00,292.68 L417.50,292.66 L418.00,292.64 L418.50,292.61 L419.00,292.59 L419.50,292.57 L420.00,292.54 L420.50,292.52 L421.00,292.50 L421.50,292.47 L422.00,292.45 L422.50,292.42 L423.00,292.39 L423.50,292.37 L424.00,292.34 L424.50,292.31 L425.00,292.28 L425.50,292.25 L426.00,292.22 L426.50,292.18 L427.00,292.15 L427.50,292.12 L428.00,292.08 L428.50,292.05 L429.00,292.01 L429.50,291.98 L430.00,291.94 L430.50,291.90 L431.00,291.86 L431.50,291.83 L432.00,291.79 L432.50,291.75 L433.00,291.71 L433.50,291.66 L434.00,291.62 L434.50,291.58 L435.00,291.54 L435.50,291.50 L436.00,291.46 L436.50,291.41 L437.00,291.37 L437.50,291.33 L438.00,291.28 L438.50,291.24 L439.00,291.20 L439.50,291.15 L440.00,291.11 L440.50,291.06 L441.00,291.02 L441.50,290.98 L442.00,290.93 L442.50,290.89 L443.00,290.84 L443.50,290.79 L444.00,290.75 L444.50,290.70 L445.00,290.65 L445.50,290.60 L446.00,290.55 L446.50,290.50 L447.00,290.45 L447.50,290.40 L448.00,290.34 L448.50,290.29 L449.00,290.23 L449.50,290.17 L450.00,290.12 L450.50,290.06 L451.00,289.99 L451.50,289.93 L452.00,289.87 L452.50,289.80 L453.00,289.73 L453.50,289.67 L454.00,289.60 L454.50,289.53 L455.00,289.46 L455.50,289.38 L456.00,289.31 L456.50,289.24 L457.00,289.16 L457.50,289.08 L458.00,289.01 L458.50,288.93 L459.00,288.85 L459.50,288.77 L460.00,288.69 L460.50,288.61 L461.00,288.53 L461.50,288.44 L462.00,288.36 L462.50,288.27 L463.00,288.19 L463.50,288.10 L464.00,288.02 L464.50,287.93 L465.00,287.84 L465.50,287.75 L466.00,287.66 L466.50,287.58 L467.00,287.49 L467.50,287.40 L468.00,287.31 L468.50,287.21 L469.00,287.12 L469.50,287.03 L470.00,286.94 L470.50,286.84 L471.00,286.75 L471.50,286.65 L472.00,286.55 L472.50,286.45 L473.00,286.35 L473.50,286.25 L474.00,286.14 L474.50,286.03 L475.00,285.92 L475.50,285.81 L476.00,285.70 L476.50,285.58 L477.00,285.46 L477.50,285.33 L478.00,285.20 L478.50,285.07 L479.00,284.93 L479.50,284.78 L480.00,284.64 L480.50,284.48 L481.00,284.33 L481.50,284.16 L482.00,284.00 L482.50,283.83 L483.00,283.66 L483.50,283.48 L484.00,283.30 L484.50,283.13 L485.00,282.94 L485.50,282.76 L486.00,282.58 L486.50,282.40 L487.00,282.21 L487.50,282.03 L488.00,281.84 L488.50,281.65 L489.00,281.46 L489.50,281.27 L490.00,281.08 L490.50,280.88 L491.00,280.68 L491.50,280.48 L492.00,280.28 L492.50,280.07 L493.00,279.86 L493.50,279.64 L494.00,279.42 L494.50,279.20 L495.00,278.97 L495.50,278.73 L496.00,278.49 L496.50,278.24 L497.00,277.98 L497.50,277.72 L498.00,277.45 L498.50,277.18 L499.00,276.90 L499.50,276.63 L500.00,276.36 L500.50,276.09 L501.00,275.82 L501.50,275.56 L502.00,275.30 L502.50,275.05 L503.00,274.80 L503.50,274.55 L504.00,274.30 L504.50,274.05 L505.00,273.79 L505.50,273.54 L506.00,273.28 L506.50,273.02 L507.00,272.75 L507.50,272.48 L508.00,272.20 L508.50,271.92 L509.00,271.63 L509.50,271.33 L510.00,271.02 L510.50,270.70 L511.00,270.38 L511.50,270.06 L512.00,269.73 L512.50,269.39 L513.00,269.05 L513.50,268.70 L514.00,268.36 L514.50,268.01 L515.00,267.65 L515.50,267.30 L516.00,266.94 L516.50,266.58 L517.00,266.23 L517.50,265.87 L518.00,265.51 L518.50,265.15 L519.00,264.79 L519.50,264.43 L520.00,264.08 L520.50,263.72 L521.00,263.37 L521.50,263.01 L522.00,262.65 L522.50,262.29 L523.00,261.93 L523.50,261.56 L524.00,261.19 L524.50,260.81 L525.00,260.42 L525.50,260.02 L526.00,259.61 L526.50,259.19 L527.00,258.76 L527.50,258.31 L528.00,257.85 L528.50,257.38 L529.00,256.89 L529.50,256.39 L530.00,255.89 L530.50,255.38 L531.00,254.86 L531.50,254.35 L532.00,253.84 L532.50,253.32 L533.00,252.81 L533.50,252.30 L534.00,251.79 L534.50,251.28 L535.00,250.77 L535.50,250.27 L536.00,249.76 L536.50,249.25 L537.00,248.75 L537.50,248.25 L538.00,247.75 L538.50,247.26 L539.00,246.77 L539.50,246.29 L540.00,245.81 L540.50,245.35 L541.00,244.89 L541.50,244.44 L542.00,244.00 L542.50,243.57 L543.00,243.16 L543.50,242.75 L544.00,242.36 L544.50,241.97 L545.00,241.60 L545.50,241.24 L546.00,240.88 L546.50,240.54 L547.00,240.22 L547.50,239.91 L548.00,239.61 L548.50,239.34 L549.00,239.10 L549.50,238.88 L550.00,238.68 L550.50,238.50 L551.00,238.35 L551.50,238.21 L552.00,238.09 L552.50,237.99 L553.00,237.90 L553.50,237.81 L554.00,237.74 L554.50,237.67 L555.00,237.61 L555.50,237.55 L556.00,237.50 L556.50,237.45 L557.00,237.40 L557.50,237.36 L558.00,237.33 L558.50,237.31 L559.00,237.29 L559.50,237.29 L560.00,237.30 L560.50,237.34 L561.00,237.39 L561.50,237.46 L562.00,237.55 L562.50,237.66 L563.00,237.80 L563.50,237.95 L564.00,238.11 L564.50,238.29 L565.00,238.48 L565.50,238.68 L566.00,238.90 L566.50,239.12 L567.00,239.35 L567.50,239.58 L568.00,239.83 L568.50,240.07 L569.00,240.33 L569.50,240.59 L570.00,240.86 L570.50,241.13 L571.00,241.41 L571.50,241.69 L572.00,241.99 L572.50,242.29 L573.00,242.59 L573.50,242.91 L574.00,243.23 L574.50,243.57 L575.00,243.91 L575.50,244.27 L576.00,244.64 L576.50,245.03 L577.00,245.44 L577.50,245.86 L578.00,246.29 L578.50,246.74 L579.00,247.19 L579.50,247.65 L580.00,248.11 L580.50,248.58 L581.00,249.05 L581.50,249.52 L582.00,249.99 L582.50,250.46 L583.00,250.93 L583.50,251.39 L584.00,251.85 L584.50,252.30 L585.00,252.74 L585.50,253.17 L586.00,253.59 L586.50,253.99 L587.00,254.39 L587.50,254.77 L588.00,255.15 L588.50,255.52 L589.00,255.88 L589.50,256.24 L590.00,256.60 L590.50,256.96 L591.00,257.32 L591.50,257.68 L592.00,258.04 L592.50,258.40 L593.00,258.77 L593.50,259.13 L594.00,259.49 L594.50,259.85 L595.00,260.21 L595.50,260.56 L596.00,260.92 L596.50,261.27 L597.00,261.62 L597.50,261.97 L598.00,262.31 L598.50,262.65 L599.00,262.99 L599.50,263.33 L600.00,263.66 L600.50,263.99 L601.00,264.32 L601.50,264.65 L602.00,264.98 L602.50,265.30 L603.00,265.63 L603.50,265.95 L604.00,266.27 L604.50,266.59 L605.00,266.91 L605.50,267.22 L606.00,267.54 L606.50,267.85 L607.00,268.16 L607.50,268.46 L608.00,268.76 L608.50,269.05 L609.00,269.34 L609.50,269.62 L610.00,269.90 L610.50,270.17 L611.00,270.44 L611.50,270.71 L612.00,270.97 L612.50,271.23 L613.00,271.48 L613.50,271.73 L614.00,271.98 L614.50,272.23 L615.00,272.47 L615.50,272.71 L616.00,272.95 L616.50,273.18 L617.00,273.41 L617.50,273.64 L618.00,273.87 L618.50,274.09 L619.00,274.31 L619.50,274.52 L620.00,274.73 L620.50,274.94 L621.00,275.15 L621.50,275.35 L622.00,275.55 L622.50,275.75 L623.00,275.95 L623.50,276.14 L624.00,276.33 L624.50,276.52 L625.00,276.71 L625.50,276.89 L626.00,277.07 L626.50,277.26 L627.00,277.44 L627.50,277.61 L628.00,277.79 L628.50,277.96 L629.00,278.14 L629.50,278.31 L630.00,278.48 L630.50,278.65 L631.00,278.81 L631.50,278.98 L632.00,279.15 L632.50,279.31 L633.00,279.48 L633.50,279.64 L634.00,279.80 L634.50,279.96 L635.00,280.13 L635.50,280.29 L636.00,280.45 L636.50,280.61 L637.00,280.76 L637.50,280.92 L638.00,281.08 L638.50,281.23 L639.00,281.39 L639.50,281.54 L640.00,281.70 L640.50,281.85 L641.00,282.00 L641.50,282.15 L642.00,282.30 L642.50,282.45 L643.00,282.59 L643.50,282.74 L644.00,282.88 L644.50,283.03 L645.00,283.17 L645.50,283.30 L646.00,283.44 L646.50,283.57 L647.00,283.70 L647.50,283.82 L648.00,283.94 L648.50,284.06 L649.00,284.17 L649.50,284.28 L650.00,284.40 L650.50,284.51 L651.00,284.62 L651.50,284.73 L652.00,284.84 L652.50,284.95 L653.00,285.06 L653.50,285.17 L654.00,285.27 L654.50,285.38 L655.00,285.49 L655.50,285.60 L656.00,285.71 L656.50,285.81 L657.00,285.92 L657.50,286.03 L658.00,286.13 L658.50,286.24 L659.00,286.35 L659.50,286.46 L660.00,286.56 L660.50,286.67 L661.00,286.78 L661.50,286.88 L662.00,286.99 L662.50,287.10 L663.00,287.20 L663.50,287.31 L664.00,287.42 L664.50,287.52 L665.00,287.63 L665.50,287.73 L666.00,287.84 L666.50,287.95 L667.00,288.05 L667.50,288.16 L668.00,288.27 L668.50,288.37 L669.00,288.48 L669.50,288.59 L670.00,288.69 L670.50,288.80" stroke="#e30808" stroke-width="2.50" fill="none" stroke-linejoin="round" stroke-linecap="butt"/>
<path d="M64.00,469.25 L65.00,467.19 L66.00,465.33 L67.00,463.86 L68.00,462.58 L69.00,461.27 L70.00,459.85 L71.00,458.20 L72.00,456.61 L73.00,455.35 L74.00,454.23 L75.00,453.02 L76.00,451.64 L77.00,449.98 L78.00,448.56 L79.00,447.85 L80.00,447.27 L81.00,446.20 L82.00,444.84 L83.00,443.40 L84.00,442.06 L85.00,440.98 L86.00,440.08 L87.00,439.24 L88.00,438.34 L89.00,437.26 L90.00,436.17 L91.00,435.26 L92.00,434.34 L93.00,433.24 L94.00,432.32 L95.00,431.95 L96.00,431.67 L97.00,431.04 L98.00,430.33 L99.00,429.79 L100.00,429.18 L101.00,428.27 L102.00,427.61 L103.00,427.76 L104.00,427.96 L105.00,427.43 L106.00,426.63 L107.00,425.99 L108.00,425.67 L109.00,425.84 L110.00,425.90 L111.00,425.30 L112.00,424.42 L113.00,423.70 L114.00,423.25 L115.00,423.22 L116.00,423.17 L117.00,422.67 L118.00,422.37 L119.00,422.96 L120.00,423.62 L121.00,423.56 L122.00,423.23 L123.00,423.11 L124.00,423.27 L125.00,423.79 L126.00,424.13 L127.00,423.76 L128.00,423.43 L129.00,423.93 L130.00,424.46 L131.00,424.22 L132.00,423.94 L133.00,424.32 L134.00,424.89 L135.00,425.13 L136.00,425.49 L137.00,426.39 L138.00,427.40 L139.00,428.10 L140.00,428.47 L141.00,428.53 L142.00,428.73 L143.00,429.51 L144.00,430.40 L145.00,430.94 L146.00,431.45 L147.00,432.25 L148.00,433.04 L149.00,433.51 L150.00,433.88 L151.00,434.35 L152.00,434.94 L153.00,435.69 L154.00,436.69 L155.00,438.05 L156.00,439.54 L157.00,440.98 L158.00,442.09 L159.00,442.58 L160.00,442.83 L161.00,443.23 L162.00,443.95 L163.00,445.15 L164.00,446.27 L165.00,446.73 L166.00,446.99 L167.00,447.50 L168.00,448.15 L169.00,448.83 L170.00,449.47 L171.00,450.01 L172.00,450.54 L173.00,451.09 L174.00,451.57 L175.00,451.87 L176.00,452.31 L177.00,453.21 L178.00,454.14 L179.00,454.64 L180.00,455.09 L181.00,455.85 L182.00,456.55 L183.00,456.81 L184.00,456.84 L185.00,456.86 L186.00,457.11 L187.00,457.83 L188.00,458.79 L189.00,459.75 L190.00,460.40 L191.00,460.46 L192.00,460.36 L193.00,460.51 L194.00,460.79 L195.00,461.06 L196.00,461.36 L197.00,461.71 L198.00,462.12 L199.00,462.63 L200.00,463.05 L201.00,463.19 L202.00,463.45 L203.00,464.24 L204.00,464.97 L205.00,465.06 L206.00,464.98 L207.00,465.19 L208.00,465.60 L209.00,466.08 L210.00,466.53 L211.00,466.83 L212.00,466.97 L213.00,466.93 L214.00,466.91 L215.00,467.11 L216.00,467.41 L217.00,467.67 L218.00,467.86 L219.00,467.95 L220.00,467.96 L221.00,467.93 L222.00,467.99 L223.00,468.31 L224.00,468.67 L225.00,468.87 L226.00,468.98 L227.00,469.05 L228.00,469.10 L229.00,469.12 L230.00,469.16 L231.00,469.29 L232.00,469.44 L233.00,469.56 L234.00,469.68 L235.00,469.81 L236.00,469.94 L237.00,470.05 L238.00,470.13 L239.00,470.18 L240.00,470.19 L241.00,470.19 L242.00,470.19 L243.00,470.20 L244.00,470.21 L245.00,470.23 L246.00,470.24 L247.00,470.23 L248.00,470.23 L249.00,470.24 L250.00,470.24 L251.00,470.24 L252.00,470.25 L253.00,470.26 L254.00,470.29 L255.00,470.34 L256.00,470.38 L257.00,470.38 L258.00,470.35 L259.00,470.33 L260.00,470.32 L261.00,470.32 L262.00,470.33 L263.00,470.33 L264.00,470.34 L265.00,470.36 L266.00,470.39 L267.00,470.40 L268.00,470.40 L269.00,470.38 L270.00,470.36 L271.00,470.39 L272.00,470.42 L273.00,470.41 L274.00,470.41 L275.00,470.44 L276.00,470.47 L277.00,470.47 L278.00,470.46 L279.00,470.48 L280.00,470.50 L281.00,470.48 L282.00,470.46 L283.00,470.46 L284.00,470.47 L285.00,470.48 L286.00,470.50 L287.00,470.51 L288.00,470.52 L289.00,470.52 L290.00,470.52 L291.00,470.51 L292.00,470.50 L293.00,470.51 L294.00,470.53 L295.00,470.54 L296.00,470.54 L297.00,470.55 L298.00,470.55 L299.00,470.56 L300.00,470.56 L301.00,470.58 L302.00,470.60 L303.00,470.60 L304.00,470.59 L305.00,470.59 L306.00,470.59 L307.00,470.60 L308.00,470.61 L309.00,470.62 L310.00,470.62 L311.00,470.62 L312.00,470.63 L313.00,470.64 L314.00,470.64 L315.00,470.65 L316.00,470.65 L317.00,470.66 L318.00,470.66 L319.00,470.67 L320.00,470.67 L321.00,470.68 L322.00,470.68 L323.00,470.68 L324.00,470.69 L325.00,470.69 L326.00,470.70" stroke="#000" stroke-width="3.60" fill="none" stroke-linejoin="round" stroke-linecap="butt"/>
<path d="M64.00,469.24 L65.00,468.01 L66.00,466.62 L67.00,464.94 L68.00,463.15 L69.00,461.44 L70.00,459.99 L71.00,458.98 L72.00,457.94 L73.00,456.41 L74.00,454.72 L75.00,453.17 L76.00,451.95 L77.00,451.19 L78.00,450.41 L79.00,449.10 L80.00,447.73 L81.00,446.76 L82.00,445.82 L83.00,444.56 L84.00,443.17 L85.00,441.89 L86.00,440.70 L87.00,439.61 L88.00,438.64 L89.00,437.84 L90.00,437.09 L91.00,436.31 L92.00,435.46 L93.00,434.53 L94.00,433.66 L95.00,433.02 L96.00,432.37 L97.00,431.46 L98.00,430.68 L99.00,430.39 L100.00,430.10 L101.00,429.29 L102.00,428.51 L103.00,428.28 L104.00,428.28 L105.00,428.16 L106.00,427.95 L107.00,427.68 L108.00,427.43 L109.00,427.27 L110.00,426.85 L111.00,425.83 L112.00,424.95 L113.00,424.96 L114.00,425.28 L115.00,425.32 L116.00,425.21 L117.00,425.08 L118.00,424.83 L119.00,424.36 L120.00,424.03 L121.00,424.23 L122.00,424.71 L123.00,425.23 L124.00,425.40 L125.00,424.84 L126.00,424.34 L127.00,424.68 L128.00,425.33 L129.00,425.79 L130.00,425.96 L131.00,425.78 L132.00,425.68 L133.00,426.11 L134.00,426.59 L135.00,426.62 L136.00,426.61 L137.00,426.94 L138.00,427.42 L139.00,427.87 L140.00,428.40 L141.00,429.14 L142.00,429.91 L143.00,430.53 L144.00,431.20 L145.00,432.12 L146.00,432.92 L147.00,433.25 L148.00,433.56 L149.00,434.30 L150.00,435.27 L151.00,436.32 L152.00,437.32 L153.00,438.17 L154.00,438.84 L155.00,439.30 L156.00,439.94 L157.00,441.16 L158.00,442.39 L159.00,443.06 L160.00,443.60 L161.00,444.44 L162.00,445.34 L163.00,446.05 L164.00,446.77 L165.00,447.64 L166.00,448.44 L167.00,448.94 L168.00,449.23 L169.00,449.37 L170.00,449.61 L171.00,450.19 L172.00,451.06 L173.00,452.15 L174.00,453.11 L175.00,453.58 L176.00,453.98 L177.00,454.78 L178.00,455.58 L179.00,456.03 L180.00,456.28 L181.00,456.49 L182.00,456.90 L183.00,457.75 L184.00,458.53 L185.00,458.73 L186.00,458.67 L187.00,458.67 L188.00,459.12 L189.00,460.43 L190.00,461.50 L191.00,461.26 L192.00,460.89 L193.00,461.56 L194.00,462.56 L195.00,463.16 L196.00,463.50 L197.00,463.70 L198.00,463.74 L199.00,463.59 L200.00,463.70 L201.00,464.51 L202.00,465.27 L203.00,465.24 L204.00,465.01 L205.00,465.17 L206.00,465.56 L207.00,466.01 L208.00,466.50 L209.00,466.99 L210.00,467.38 L211.00,467.57 L212.00,467.73 L213.00,468.00 L214.00,468.23 L215.00,468.29 L216.00,468.33 L217.00,468.51 L218.00,468.71 L219.00,468.79 L220.00,468.87 L221.00,469.08 L222.00,469.35 L223.00,469.59 L224.00,469.78 L225.00,469.85 L226.00,469.90 L227.00,470.05 L228.00,470.19 L229.00,470.26 L230.00,470.30 L231.00,470.39 L232.00,470.51 L233.00,470.66 L234.00,470.81 L235.00,470.94 L236.00,471.05 L237.00,471.14 L238.00,471.20 L239.00,471.22 L240.00,471.24 L241.00,471.29 L242.00,471.33 L243.00,471.31 L244.00,471.29 L245.00,471.29 L246.00,471.30 L247.00,471.29 L248.00,471.29 L249.00,471.32 L250.00,471.35 L251.00,471.38 L252.00,471.39 L253.00,471.38 L254.00,471.37 L255.00,471.38 L256.00,471.40 L257.00,471.42 L258.00,471.44 L259.00,471.44 L260.00,471.43 L261.00,471.43 L262.00,471.44 L263.00,471.46 L264.00,471.49 L265.00,471.49 L266.00,471.49 L267.00,471.49 L268.00,471.50 L269.00,471.52 L270.00,471.53 L271.00,471.54 L272.00,471.54 L273.00,471.53 L274.00,471.51 L275.00,471.52 L276.00,471.53 L277.00,471.54 L278.00,471.56 L279.00,471.56 L280.00,471.55 L281.00,471.54 L282.00,471.53 L283.00,471.57 L284.00,471.60 L285.00,471.60 L286.00,471.59 L287.00,471.60 L288.00,471.61 L289.00,471.60 L290.00,471.59 L291.00,471.62 L292.00,471.64 L293.00,471.63 L294.00,471.62 L295.00,471.63 L296.00,471.64 L297.00,471.64 L298.00,471.64 L299.00,471.65 L300.00,471.67 L301.00,471.67 L302.00,471.68 L303.00,471.68 L304.00,471.69 L305.00,471.70 L306.00,471.70 L307.00,471.71 L308.00,471.71 L309.00,471.72 L310.00,471.73 L311.00,471.73 L312.00,471.73 L313.00,471.73 L314.00,471.73 L315.00,471.74 L316.00,471.75 L317.00,471.76 L318.00,471.76 L319.00,471.77 L320.00,471.77 L321.00,471.78 L322.00,471.78 L323.00,471.78 L324.00,471.79 L325.00,471.79 L326.00,471.80" stroke="#000" stroke-width="3.60" fill="none" stroke-linejoin="round" stroke-linecap="butt"/>
<path d="M64.00,471.33 L65.00,469.50 L66.00,467.73 L67.00,466.06 L68.00,464.56 L69.00,463.28 L70.00,461.99 L71.00,460.45 L72.00,458.95 L73.00,457.81 L74.00,456.70 L75.00,455.32 L76.00,453.99 L77.00,453.03 L78.00,452.08 L79.00,450.79 L80.00,449.32 L81.00,447.81 L82.00,446.49 L83.00,445.57 L84.00,444.78 L85.00,443.86 L86.00,442.76 L87.00,441.42 L88.00,440.13 L89.00,439.14 L90.00,438.15 L91.00,436.83 L92.00,435.77 L93.00,435.55 L94.00,435.40 L95.00,434.56 L96.00,433.41 L97.00,432.32 L98.00,431.42 L99.00,430.83 L100.00,430.48 L101.00,430.33 L102.00,430.25 L103.00,430.12 L104.00,429.83 L105.00,429.28 L106.00,428.73 L107.00,428.44 L108.00,428.11 L109.00,427.45 L110.00,426.74 L111.00,426.24 L112.00,426.03 L113.00,426.22 L114.00,426.43 L115.00,426.28 L116.00,425.95 L117.00,425.67 L118.00,425.57 L119.00,425.82 L120.00,425.99 L121.00,425.63 L122.00,425.22 L123.00,425.25 L124.00,425.56 L125.00,426.01 L126.00,426.48 L127.00,426.89 L128.00,427.07 L129.00,426.86 L130.00,426.74 L131.00,427.22 L132.00,427.68 L133.00,427.53 L134.00,427.35 L135.00,427.72 L136.00,428.27 L137.00,428.63 L138.00,428.83 L139.00,428.91 L140.00,429.19 L141.00,430.01 L142.00,431.05 L143.00,431.96 L144.00,432.69 L145.00,433.18 L146.00,433.62 L147.00,434.24 L148.00,435.06 L149.00,436.11 L150.00,436.98 L151.00,437.26 L152.00,437.45 L153.00,438.08 L154.00,439.01 L155.00,440.11 L156.00,441.16 L157.00,441.94 L158.00,442.82 L159.00,444.14 L160.00,445.40 L161.00,446.07 L162.00,446.45 L163.00,446.82 L164.00,447.27 L165.00,447.88 L166.00,448.82 L167.00,450.29 L168.00,451.47 L169.00,451.57 L170.00,451.39 L171.00,451.74 L172.00,452.43 L173.00,453.26 L174.00,454.09 L175.00,454.81 L176.00,455.41 L177.00,455.90 L178.00,456.29 L179.00,456.55 L180.00,456.82 L181.00,457.18 L182.00,457.75 L183.00,458.62 L184.00,459.44 L185.00,459.90 L186.00,460.09 L187.00,460.11 L188.00,460.38 L189.00,461.33 L190.00,462.35 L191.00,462.85 L192.00,463.06 L193.00,463.19 L194.00,463.35 L195.00,463.64 L196.00,464.04 L197.00,464.50 L198.00,464.89 L199.00,465.06 L200.00,465.13 L201.00,465.24 L202.00,465.52 L203.00,466.14 L204.00,466.68 L205.00,466.71 L206.00,466.74 L207.00,467.25 L208.00,467.77 L209.00,467.81 L210.00,467.79 L211.00,468.15 L212.00,468.60 L213.00,468.87 L214.00,469.13 L215.00,469.60 L216.00,469.94 L217.00,469.85 L218.00,469.66 L219.00,469.70 L220.00,469.89 L221.00,470.13 L222.00,470.36 L223.00,470.48 L224.00,470.59 L225.00,470.75 L226.00,470.93 L227.00,471.13 L228.00,471.30 L229.00,471.43 L230.00,471.54 L231.00,471.68 L232.00,471.79 L233.00,471.83 L234.00,471.89 L235.00,472.08 L236.00,472.27 L237.00,472.35 L238.00,472.37 L239.00,472.35 L240.00,472.31 L241.00,472.27 L242.00,472.27 L243.00,472.32 L244.00,472.38 L245.00,472.41 L246.00,472.41 L247.00,472.37 L248.00,472.35 L249.00,472.39 L250.00,472.44 L251.00,472.46 L252.00,472.46 L253.00,472.46 L254.00,472.46 L255.00,472.49 L256.00,472.52 L257.00,472.55 L258.00,472.55 L259.00,472.53 L260.00,472.52 L261.00,472.53 L262.00,472.55 L263.00,472.55 L264.00,472.54 L265.00,472.54 L266.00,472.56 L267.00,472.57 L268.00,472.59 L269.00,472.61 L270.00,472.61 L271.00,472.61 L272.00,472.59 L273.00,472.57 L274.00,472.57 L275.00,472.61 L276.00,472.64 L277.00,472.63 L278.00,472.62 L279.00,472.63 L280.00,472.66 L281.00,472.69 L282.00,472.71 L283.00,472.70 L284.00,472.68 L285.00,472.67 L286.00,472.66 L287.00,472.66 L288.00,472.67 L289.00,472.70 L290.00,472.73 L291.00,472.73 L292.00,472.72 L293.00,472.73 L294.00,472.74 L295.00,472.75 L296.00,472.75 L297.00,472.76 L298.00,472.76 L299.00,472.76 L300.00,472.77 L301.00,472.77 L302.00,472.77 L303.00,472.76 L304.00,472.76 L305.00,472.77 L306.00,472.78 L307.00,472.80 L308.00,472.81 L309.00,472.81 L310.00,472.82 L311.00,472.83 L312.00,472.83 L313.00,472.84 L314.00,472.84 L315.00,472.84 L316.00,472.85 L317.00,472.86 L318.00,472.86 L319.00,472.87 L320.00,472.87 L321.00,472.87 L322.00,472.88 L323.00,472.88 L324.00,472.89 L325.00,472.89 L326.00,472.90" stroke="#000" stroke-width="3.60" fill="none" stroke-linejoin="round" stroke-linecap="butt"/>
<path d="M64.00,471.00 L64.50,470.36 L65.00,469.72 L65.50,469.08 L66.00,468.44 L66.50,467.80 L67.00,467.16 L67.50,466.52 L68.00,465.88 L68.50,465.24 L69.00,464.61 L69.50,463.97 L70.00,463.33 L70.50,462.70 L71.00,462.06 L71.50,461.43 L72.00,460.80 L72.50,460.16 L73.00,459.53 L73.50,458.89 L74.00,458.26 L74.50,457.63 L75.00,456.99 L75.50,456.36 L76.00,455.73 L76.50,455.10 L77.00,454.48 L77.50,453.86 L78.00,453.25 L78.50,452.65 L79.00,452.06 L79.50,451.47 L80.00,450.90 L80.50,450.33 L81.00,449.77 L81.50,449.22 L82.00,448.68 L82.50,448.15 L83.00,447.62 L83.50,447.11 L84.00,446.60 L84.50,446.09 L85.00,445.60 L85.50,445.11 L86.00,444.63 L86.50,444.16 L87.00,443.70 L87.50,443.25 L88.00,442.80 L88.50,442.36 L89.00,441.93 L89.50,441.51 L90.00,441.10 L90.50,440.69 L91.00,440.30 L91.50,439.91 L92.00,439.53 L92.50,439.15 L93.00,438.79 L93.50,438.43 L94.00,438.08 L94.50,437.74 L95.00,437.41 L95.50,437.08 L96.00,436.76 L96.50,436.45 L97.00,436.14 L97.50,435.85 L98.00,435.56 L98.50,435.28 L99.00,435.01 L99.50,434.75 L100.00,434.49 L100.50,434.25 L101.00,434.01 L101.50,433.78 L102.00,433.55 L102.50,433.34 L103.00,433.13 L103.50,432.92 L104.00,432.72 L104.50,432.53 L105.00,432.34 L105.50,432.15 L106.00,431.97 L106.50,431.79 L107.00,431.61 L107.50,431.44 L108.00,431.27 L108.50,431.10 L109.00,430.94 L109.50,430.78 L110.00,430.63 L110.50,430.48 L111.00,430.33 L111.50,430.19 L112.00,430.05 L112.50,429.92 L113.00,429.79 L113.50,429.67 L114.00,429.56 L114.50,429.46 L115.00,429.36 L115.50,429.27 L116.00,429.19 L116.50,429.12 L117.00,429.06 L117.50,429.01 L118.00,428.97 L118.50,428.94 L119.00,428.92 L119.50,428.91 L120.00,428.91 L120.50,428.92 L121.00,428.94 L121.50,428.96 L122.00,428.99 L122.50,429.03 L123.00,429.07 L123.50,429.12 L124.00,429.17 L124.50,429.23 L125.00,429.29 L125.50,429.35 L126.00,429.42 L126.50,429.49 L127.00,429.57 L127.50,429.64 L128.00,429.73 L128.50,429.81 L129.00,429.90 L129.50,429.99 L130.00,430.08 L130.50,430.18 L131.00,430.28 L131.50,430.39 L132.00,430.50 L132.50,430.61 L133.00,430.73 L133.50,430.85 L134.00,430.98 L134.50,431.12 L135.00,431.27 L135.50,431.42 L136.00,431.57 L136.50,431.74 L137.00,431.91 L137.50,432.08 L138.00,432.26 L138.50,432.44 L139.00,432.62 L139.50,432.80 L140.00,432.99 L140.50,433.17 L141.00,433.36 L141.50,433.55 L142.00,433.74 L142.50,433.94 L143.00,434.14 L143.50,434.35 L144.00,434.57 L144.50,434.79 L145.00,435.03 L145.50,435.27 L146.00,435.52 L146.50,435.77 L147.00,436.02 L147.50,436.28 L148.00,436.54 L148.50,436.80 L149.00,437.07 L149.50,437.33 L150.00,437.60 L150.50,437.86 L151.00,438.13 L151.50,438.39 L152.00,438.66 L152.50,438.92 L153.00,439.19 L153.50,439.46 L154.00,439.72 L154.50,439.99 L155.00,440.25 L155.50,440.52 L156.00,440.79 L156.50,441.05 L157.00,441.32 L157.50,441.59 L158.00,441.85 L158.50,442.12 L159.00,442.39 L159.50,442.66 L160.00,442.93 L160.50,443.20 L161.00,443.47 L161.50,443.74 L162.00,444.01 L162.50,444.28 L163.00,444.55 L163.50,444.83 L164.00,445.10 L164.50,445.37 L165.00,445.65 L165.50,445.92 L166.00,446.19 L166.50,446.46 L167.00,446.73 L167.50,447.00 L168.00,447.27 L168.50,447.54 L169.00,447.81 L169.50,448.07 L170.00,448.34 L170.50,448.60 L171.00,448.86 L171.50,449.12 L172.00,449.38 L172.50,449.64 L173.00,449.89 L173.50,450.14 L174.00,450.39 L174.50,450.64 L175.00,450.89 L175.50,451.13 L176.00,451.37 L176.50,451.62 L177.00,451.86 L177.50,452.10 L178.00,452.33 L178.50,452.57 L179.00,452.81 L179.50,453.04 L180.00,453.27 L180.50,453.50 L181.00,453.73 L181.50,453.96 L182.00,454.19 L182.50,454.41 L183.00,454.64 L183.50,454.86 L184.00,455.08 L184.50,455.29 L185.00,455.51 L185.50,455.72 L186.00,455.94 L186.50,456.15 L187.00,456.36 L187.50,456.56 L188.00,456.77 L188.50,456.97 L189.00,457.17 L189.50,457.37 L190.00,457.57 L190.50,457.76 L191.00,457.96 L191.50,458.15 L192.00,458.34 L192.50,458.52 L193.00,458.71 L193.50,458.89 L194.00,459.08 L194.50,459.26 L195.00,459.44 L195.50,459.61 L196.00,459.79 L196.50,459.96 L197.00,460.13 L197.50,460.30 L198.00,460.47 L198.50,460.64 L199.00,460.81 L199.50,460.97 L200.00,461.13 L200.50,461.29 L201.00,461.45 L201.50,461.61 L202.00,461.77 L202.50,461.92 L203.00,462.07 L203.50,462.22 L204.00,462.37 L204.50,462.52 L205.00,462.67 L205.50,462.81 L206.00,462.96 L206.50,463.10 L207.00,463.24 L207.50,463.38 L208.00,463.51 L208.50,463.65 L209.00,463.78 L209.50,463.91 L210.00,464.04 L210.50,464.17 L211.00,464.30 L211.50,464.42 L212.00,464.55 L212.50,464.67 L213.00,464.79 L213.50,464.91 L214.00,465.02 L214.50,465.14 L215.00,465.25 L215.50,465.36 L216.00,465.47 L216.50,465.58 L217.00,465.69 L217.50,465.79 L218.00,465.89 L218.50,465.99 L219.00,466.08 L219.50,466.18 L220.00,466.27 L220.50,466.36 L221.00,466.45 L221.50,466.53 L222.00,466.61 L222.50,466.70 L223.00,466.77 L223.50,466.85 L224.00,466.93 L224.50,467.00 L225.00,467.08 L225.50,467.15 L226.00,467.22 L226.50,467.29 L227.00,467.36 L227.50,467.43 L228.00,467.49 L228.50,467.56 L229.00,467.63 L229.50,467.69 L230.00,467.76 L230.50,467.82 L231.00,467.89 L231.50,467.96 L232.00,468.02 L232.50,468.09 L233.00,468.16 L233.50,468.23 L234.00,468.30 L234.50,468.37 L235.00,468.44 L235.50,468.52 L236.00,468.59 L236.50,468.66 L237.00,468.73 L237.50,468.80 L238.00,468.87 L238.50,468.93 L239.00,468.99 L239.50,469.05 L240.00,469.10 L240.50,469.15 L241.00,469.20 L241.50,469.25 L242.00,469.29 L242.50,469.33 L243.00,469.37 L243.50,469.40 L244.00,469.43 L244.50,469.46 L245.00,469.49 L245.50,469.52 L246.00,469.55 L246.50,469.58 L247.00,469.60 L247.50,469.63 L248.00,469.65 L248.50,469.68 L249.00,469.70 L249.50,469.72 L250.00,469.74 L250.50,469.76 L251.00,469.78 L251.50,469.80 L252.00,469.82 L252.50,469.84 L253.00,469.86 L253.50,469.88 L254.00,469.89 L254.50,469.91 L255.00,469.93 L255.50,469.94 L256.00,469.96 L256.50,469.97 L257.00,469.99 L257.50,470.00 L258.00,470.01 L258.50,470.03 L259.00,470.04 L259.50,470.05 L260.00,470.06 L260.50,470.08 L261.00,470.09 L261.50,470.10 L262.00,470.11 L262.50,470.12 L263.00,470.13 L263.50,470.14 L264.00,470.15 L264.50,470.16 L265.00,470.17 L265.50,470.18 L266.00,470.19 L266.50,470.20 L267.00,470.21 L267.50,470.22 L268.00,470.23 L268.50,470.24 L269.00,470.25 L269.50,470.26 L270.00,470.27 L270.50,470.28 L271.00,470.29 L271.50,470.30 L272.00,470.30 L272.50,470.31 L273.00,470.32 L273.50,470.33 L274.00,470.34 L274.50,470.34 L275.00,470.35 L275.50,470.36 L276.00,470.37 L276.50,470.37 L277.00,470.38 L277.50,470.39 L278.00,470.39 L278.50,470.40 L279.00,470.41 L279.50,470.41 L280.00,470.42 L280.50,470.43 L281.00,470.43 L281.50,470.44 L282.00,470.45 L282.50,470.45 L283.00,470.46 L283.50,470.46 L284.00,470.47 L284.50,470.48 L285.00,470.48 L285.50,470.49 L286.00,470.49 L286.50,470.50 L287.00,470.51 L287.50,470.51 L288.00,470.52 L288.50,470.52 L289.00,470.53 L289.50,470.53 L290.00,470.54 L290.50,470.54 L291.00,470.55 L291.50,470.56 L292.00,470.56 L292.50,470.57 L293.00,470.57 L293.50,470.58 L294.00,470.58 L294.50,470.59 L295.00,470.59 L295.50,470.60 L296.00,470.60 L296.50,470.61 L297.00,470.61 L297.50,470.62 L298.00,470.62 L298.50,470.63 L299.00,470.63 L299.50,470.64 L300.00,470.64 L300.50,470.65 L301.00,470.65 L301.50,470.66 L302.00,470.66 L302.50,470.67 L303.00,470.67 L303.50,470.68 L304.00,470.68 L304.50,470.69 L305.00,470.69 L305.50,470.70 L306.00,470.70 L306.50,470.71 L307.00,470.71 L307.50,470.72 L308.00,470.72 L308.50,470.73 L309.00,470.73 L309.50,470.74 L310.00,470.74 L310.50,470.75 L311.00,470.75 L311.50,470.76 L312.00,470.76 L312.50,470.77 L313.00,470.77 L313.50,470.78 L314.00,470.78 L314.50,470.79 L315.00,470.79 L315.50,470.80 L316.00,470.80 L316.50,470.81 L317.00,470.81 L317.50,470.82 L318.00,470.82 L318.50,470.82 L319.00,470.83 L319.50,470.83 L320.00,470.84 L320.50,470.84 L321.00,470.85 L321.50,470.85 L322.00,470.86 L322.50,470.86 L323.00,470.87 L323.50,470.87 L324.00,470.88 L324.50,470.88 L325.00,470.89 L325.50,470.89 L326.00,470.90" stroke="#e30808" stroke-width="3.20" fill="none" stroke-linejoin="round" stroke-linecap="butt"/>
<path d="M409.00,468.60 L410.00,465.92 L411.00,463.31 L412.00,460.82 L413.00,458.33 L414.00,455.67 L415.00,453.16 L416.00,451.09 L417.00,449.13 L418.00,446.95 L419.00,444.68 L420.00,442.47 L421.00,440.36 L422.00,438.43 L423.00,436.59 L424.00,434.77 L425.00,432.91 L426.00,430.94 L427.00,429.05 L428.00,427.44 L429.00,426.02 L430.00,424.70 L431.00,423.51 L432.00,422.50 L433.00,421.54 L434.00,420.46 L435.00,419.25 L436.00,417.85 L437.00,416.52 L438.00,415.52 L439.00,414.82 L440.00,414.40 L441.00,414.10 L442.00,413.74 L443.00,413.24 L444.00,412.49 L445.00,411.73 L446.00,411.17 L447.00,410.92 L448.00,411.09 L449.00,411.28 L450.00,411.10 L451.00,410.95 L452.00,411.23 L453.00,411.73 L454.00,412.26 L455.00,412.71 L456.00,412.98 L457.00,413.22 L458.00,413.55 L459.00,414.05 L460.00,414.78 L461.00,415.50 L462.00,415.98 L463.00,416.51 L464.00,417.40 L465.00,418.45 L466.00,419.48 L467.00,420.58 L468.00,421.86 L469.00,423.17 L470.00,424.36 L471.00,425.54 L472.00,426.80 L473.00,428.06 L474.00,429.24 L475.00,430.42 L476.00,431.69 L477.00,432.96 L478.00,434.14 L479.00,435.28 L480.00,436.43 L481.00,437.64 L482.00,438.99 L483.00,440.10 L484.00,440.60 L485.00,441.21 L486.00,442.62 L487.00,444.12 L488.00,444.97 L489.00,445.53 L490.00,446.15 L491.00,446.92 L492.00,447.95 L493.00,449.02 L494.00,449.95 L495.00,450.85 L496.00,451.85 L497.00,452.67 L498.00,453.02 L499.00,453.36 L500.00,454.15 L501.00,455.05 L502.00,455.73 L503.00,456.15 L504.00,456.31 L505.00,456.48 L506.00,456.91 L507.00,457.56 L508.00,458.34 L509.00,459.07 L510.00,459.55 L511.00,459.92 L512.00,460.34 L513.00,460.72 L514.00,460.94 L515.00,461.11 L516.00,461.33 L517.00,461.54 L518.00,461.72 L519.00,461.97 L520.00,462.41 L521.00,462.73 L522.00,462.61 L523.00,462.46 L524.00,462.68 L525.00,463.07 L526.00,463.42 L527.00,463.59 L528.00,463.44 L529.00,463.42 L530.00,463.99 L531.00,464.55 L532.00,464.51 L533.00,464.33 L534.00,464.46 L535.00,464.82 L536.00,465.33 L537.00,465.64 L538.00,465.44 L539.00,465.13 L540.00,465.16 L541.00,465.42 L542.00,465.83 L543.00,466.12 L544.00,466.00 L545.00,465.82 L546.00,465.93 L547.00,466.19 L548.00,466.45 L549.00,466.67 L550.00,466.82 L551.00,466.94 L552.00,467.08 L553.00,467.21 L554.00,467.31 L555.00,467.43 L556.00,467.60 L557.00,467.77 L558.00,467.86 L559.00,467.91 L560.00,467.97 L561.00,468.01 L562.00,468.01 L563.00,468.01 L564.00,468.08 L565.00,468.14 L566.00,468.13 L567.00,468.17 L568.00,468.40 L569.00,468.59 L570.00,468.54 L571.00,468.48 L572.00,468.67 L573.00,468.93 L574.00,469.11 L575.00,469.17 L576.00,469.06 L577.00,468.94 L578.00,468.96 L579.00,469.06 L580.00,469.13 L581.00,469.22 L582.00,469.36 L583.00,469.45 L584.00,469.42 L585.00,469.37 L586.00,469.43 L587.00,469.52 L588.00,469.55 L589.00,469.57 L590.00,469.61 L591.00,469.69 L592.00,469.83 L593.00,469.92 L594.00,469.85 L595.00,469.77 L596.00,469.82 L597.00,469.93 L598.00,469.99 L599.00,470.04 L600.00,470.12 L601.00,470.15 L602.00,470.06 L603.00,470.01 L604.00,470.15 L605.00,470.31 L606.00,470.34 L607.00,470.33 L608.00,470.37 L609.00,470.42 L610.00,470.42 L611.00,470.38 L612.00,470.30 L613.00,470.26 L614.00,470.31 L615.00,470.42 L616.00,470.55 L617.00,470.64 L618.00,470.65 L619.00,470.63 L620.00,470.64 L621.00,470.69 L622.00,470.81 L623.00,470.95 L624.00,471.03 L625.00,471.03 L626.00,470.94 L627.00,470.89 L628.00,471.00 L629.00,471.07 L630.00,470.93 L631.00,470.75 L632.00,470.71 L633.00,470.78 L634.00,470.96 L635.00,471.11 L636.00,471.11 L637.00,471.08 L638.00,471.12 L639.00,471.19 L640.00,471.22 L641.00,471.22 L642.00,471.21 L643.00,471.21 L644.00,471.26 L645.00,471.32 L646.00,471.33 L647.00,471.30 L648.00,471.22 L649.00,471.18 L650.00,471.26 L651.00,471.36 L652.00,471.40 L653.00,471.43 L654.00,471.53 L655.00,471.58 L656.00,471.48 L657.00,471.37 L658.00,471.40 L659.00,471.47 L660.00,471.48 L661.00,471.47 L662.00,471.49 L663.00,471.54 L664.00,471.64 L665.00,471.72 L666.00,471.70 L667.00,471.64 L668.00,471.61 L669.00,471.58" stroke="#000" stroke-width="3.20" fill="none" stroke-linejoin="round" stroke-linecap="butt"/>
<path d="M409.00,469.03 L410.00,466.67 L411.00,464.22 L412.00,461.62 L413.00,459.04 L414.00,456.67 L415.00,454.47 L416.00,452.42 L417.00,450.35 L418.00,448.11 L419.00,445.80 L420.00,443.50 L421.00,441.26 L422.00,439.11 L423.00,437.09 L424.00,435.25 L425.00,433.42 L426.00,431.44 L427.00,429.68 L428.00,428.51 L429.00,427.47 L430.00,426.09 L431.00,424.63 L432.00,423.32 L433.00,422.02 L434.00,420.60 L435.00,419.28 L436.00,418.27 L437.00,417.49 L438.00,416.85 L439.00,416.22 L440.00,415.46 L441.00,414.64 L442.00,413.83 L443.00,413.19 L444.00,412.85 L445.00,412.68 L446.00,412.51 L447.00,412.25 L448.00,411.80 L449.00,411.41 L450.00,411.37 L451.00,411.49 L452.00,411.61 L453.00,411.76 L454.00,411.97 L455.00,412.37 L456.00,413.14 L457.00,413.95 L458.00,414.51 L459.00,414.98 L460.00,415.55 L461.00,416.09 L462.00,416.51 L463.00,417.01 L464.00,417.81 L465.00,418.87 L466.00,420.16 L467.00,421.48 L468.00,422.69 L469.00,423.89 L470.00,425.21 L471.00,426.49 L472.00,427.56 L473.00,428.67 L474.00,430.07 L475.00,431.60 L476.00,433.09 L477.00,434.46 L478.00,435.62 L479.00,436.71 L480.00,437.85 L481.00,438.88 L482.00,439.66 L483.00,440.49 L484.00,441.63 L485.00,442.78 L486.00,443.57 L487.00,444.37 L488.00,445.53 L489.00,446.68 L490.00,447.42 L491.00,448.04 L492.00,448.82 L493.00,449.65 L494.00,450.43 L495.00,451.28 L496.00,452.31 L497.00,453.30 L498.00,454.02 L499.00,454.61 L500.00,455.25 L501.00,455.79 L502.00,456.11 L503.00,456.49 L504.00,457.21 L505.00,457.86 L506.00,458.05 L507.00,458.32 L508.00,459.23 L509.00,460.11 L510.00,460.33 L511.00,460.36 L512.00,460.67 L513.00,461.07 L514.00,461.37 L515.00,461.52 L516.00,461.49 L517.00,461.47 L518.00,461.66 L519.00,462.02 L520.00,462.49 L521.00,463.05 L522.00,463.65 L523.00,463.99 L524.00,463.80 L525.00,463.53 L526.00,463.66 L527.00,463.99 L528.00,464.33 L529.00,464.55 L530.00,464.49 L531.00,464.39 L532.00,464.48 L533.00,464.71 L534.00,465.05 L535.00,465.40 L536.00,465.64 L537.00,465.79 L538.00,465.86 L539.00,466.00 L540.00,466.35 L541.00,466.66 L542.00,466.63 L543.00,466.54 L544.00,466.65 L545.00,466.88 L546.00,467.16 L547.00,467.43 L548.00,467.62 L549.00,467.66 L550.00,467.47 L551.00,467.32 L552.00,467.47 L553.00,467.77 L554.00,468.07 L555.00,468.25 L556.00,468.20 L557.00,468.12 L558.00,468.20 L559.00,468.34 L560.00,468.43 L561.00,468.49 L562.00,468.56 L563.00,468.65 L564.00,468.74 L565.00,468.85 L566.00,469.01 L567.00,469.18 L568.00,469.34 L569.00,469.48 L570.00,469.59 L571.00,469.65 L572.00,469.63 L573.00,469.56 L574.00,469.47 L575.00,469.45 L576.00,469.59 L577.00,469.76 L578.00,469.83 L579.00,469.88 L580.00,469.97 L581.00,470.06 L582.00,470.10 L583.00,470.09 L584.00,470.02 L585.00,470.00 L586.00,470.16 L587.00,470.30 L588.00,470.24 L589.00,470.15 L590.00,470.22 L591.00,470.36 L592.00,470.48 L593.00,470.57 L594.00,470.62 L595.00,470.68 L596.00,470.79 L597.00,470.83 L598.00,470.66 L599.00,470.50 L600.00,470.63 L601.00,470.84 L602.00,470.94 L603.00,470.96 L604.00,470.94 L605.00,470.93 L606.00,471.00 L607.00,471.06 L608.00,471.01 L609.00,470.96 L610.00,471.06 L611.00,471.20 L612.00,471.25 L613.00,471.25 L614.00,471.19 L615.00,471.14 L616.00,471.17 L617.00,471.23 L618.00,471.29 L619.00,471.34 L620.00,471.34 L621.00,471.37 L622.00,471.49 L623.00,471.59 L624.00,471.59 L625.00,471.58 L626.00,471.66 L627.00,471.75 L628.00,471.78 L629.00,471.78 L630.00,471.75 L631.00,471.72 L632.00,471.72 L633.00,471.72 L634.00,471.70 L635.00,471.69 L636.00,471.71 L637.00,471.74 L638.00,471.76 L639.00,471.80 L640.00,471.88 L641.00,471.94 L642.00,471.91 L643.00,471.88 L644.00,471.93 L645.00,472.00 L646.00,472.04 L647.00,472.05 L648.00,472.04 L649.00,472.02 L650.00,472.04 L651.00,472.10 L652.00,472.19 L653.00,472.29 L654.00,472.34 L655.00,472.32 L656.00,472.23 L657.00,472.14 L658.00,472.15 L659.00,472.20 L660.00,472.22 L661.00,472.22 L662.00,472.23 L663.00,472.28 L664.00,472.37 L665.00,472.46 L666.00,472.45 L667.00,472.43 L668.00,472.46 L669.00,472.51" stroke="#000" stroke-width="3.20" fill="none" stroke-linejoin="round" stroke-linecap="butt"/>
<path d="M409.00,470.11 L410.00,467.40 L411.00,464.78 L412.00,462.32 L413.00,459.94 L414.00,457.59 L415.00,455.30 L416.00,453.13 L417.00,450.95 L418.00,448.60 L419.00,446.29 L420.00,444.20 L421.00,442.23 L422.00,440.30 L423.00,438.40 L424.00,436.56 L425.00,434.73 L426.00,432.92 L427.00,431.11 L428.00,429.31 L429.00,427.57 L430.00,425.92 L431.00,424.61 L432.00,423.84 L433.00,423.15 L434.00,422.06 L435.00,420.74 L436.00,419.39 L437.00,418.19 L438.00,417.28 L439.00,416.54 L440.00,415.82 L441.00,415.04 L442.00,414.15 L443.00,413.46 L444.00,413.30 L445.00,413.22 L446.00,412.79 L447.00,412.35 L448.00,412.20 L449.00,412.29 L450.00,412.54 L451.00,412.77 L452.00,412.82 L453.00,412.92 L454.00,413.30 L455.00,413.78 L456.00,414.20 L457.00,414.60 L458.00,415.02 L459.00,415.50 L460.00,416.06 L461.00,416.83 L462.00,417.92 L463.00,418.93 L464.00,419.49 L465.00,420.14 L466.00,421.49 L467.00,422.88 L468.00,423.70 L469.00,424.53 L470.00,425.94 L471.00,427.48 L472.00,428.70 L473.00,429.74 L474.00,430.77 L475.00,431.68 L476.00,432.41 L477.00,433.46 L478.00,435.38 L479.00,437.22 L480.00,438.04 L481.00,438.56 L482.00,439.50 L483.00,440.70 L484.00,441.98 L485.00,443.22 L486.00,444.26 L487.00,445.24 L488.00,446.25 L489.00,447.21 L490.00,448.05 L491.00,448.77 L492.00,449.34 L493.00,450.09 L494.00,451.33 L495.00,452.51 L496.00,453.06 L497.00,453.50 L498.00,454.33 L499.00,455.28 L500.00,456.06 L501.00,456.78 L502.00,457.52 L503.00,458.12 L504.00,458.41 L505.00,458.61 L506.00,458.98 L507.00,459.43 L508.00,459.87 L509.00,460.19 L510.00,460.24 L511.00,460.35 L512.00,460.82 L513.00,461.37 L514.00,461.69 L515.00,461.91 L516.00,462.11 L517.00,462.41 L518.00,462.91 L519.00,463.36 L520.00,463.54 L521.00,463.75 L522.00,464.28 L523.00,464.86 L524.00,465.17 L525.00,465.16 L526.00,464.73 L527.00,464.44 L528.00,464.81 L529.00,465.32 L530.00,465.40 L531.00,465.43 L532.00,465.78 L533.00,466.16 L534.00,466.31 L535.00,466.40 L536.00,466.62 L537.00,466.83 L538.00,466.89 L539.00,466.94 L540.00,467.09 L541.00,467.23 L542.00,467.26 L543.00,467.17 L544.00,467.01 L545.00,466.94 L546.00,467.16 L547.00,467.48 L548.00,467.70 L549.00,467.88 L550.00,468.06 L551.00,468.21 L552.00,468.30 L553.00,468.44 L554.00,468.78 L555.00,469.08 L556.00,469.10 L557.00,469.08 L558.00,469.24 L559.00,469.41 L560.00,469.42 L561.00,469.43 L562.00,469.62 L563.00,469.79 L564.00,469.72 L565.00,469.64 L566.00,469.79 L567.00,469.95 L568.00,469.93 L569.00,469.90 L570.00,470.04 L571.00,470.25 L572.00,470.43 L573.00,470.50 L574.00,470.38 L575.00,470.25 L576.00,470.29 L577.00,470.43 L578.00,470.57 L579.00,470.68 L580.00,470.73 L581.00,470.73 L582.00,470.70 L583.00,470.72 L584.00,470.90 L585.00,471.08 L586.00,471.10 L587.00,471.09 L588.00,471.19 L589.00,471.29 L590.00,471.30 L591.00,471.25 L592.00,471.18 L593.00,471.15 L594.00,471.20 L595.00,471.31 L596.00,471.47 L597.00,471.57 L598.00,471.47 L599.00,471.35 L600.00,471.39 L601.00,471.50 L602.00,471.61 L603.00,471.70 L604.00,471.78 L605.00,471.83 L606.00,471.86 L607.00,471.84 L608.00,471.73 L609.00,471.69 L610.00,471.89 L611.00,472.09 L612.00,472.05 L613.00,471.95 L614.00,471.95 L615.00,472.00 L616.00,472.03 L617.00,472.06 L618.00,472.08 L619.00,472.09 L620.00,472.07 L621.00,472.07 L622.00,472.12 L623.00,472.21 L624.00,472.34 L625.00,472.41 L626.00,472.33 L627.00,472.20 L628.00,472.12 L629.00,472.14 L630.00,472.31 L631.00,472.48 L632.00,472.54 L633.00,472.55 L634.00,472.58 L635.00,472.63 L636.00,472.72 L637.00,472.76 L638.00,472.67 L639.00,472.58 L640.00,472.61 L641.00,472.68 L642.00,472.73 L643.00,472.77 L644.00,472.83 L645.00,472.88 L646.00,472.91 L647.00,472.89 L648.00,472.82 L649.00,472.74 L650.00,472.71 L651.00,472.72 L652.00,472.79 L653.00,472.84 L654.00,472.80 L655.00,472.78 L656.00,472.91 L657.00,473.03 L658.00,473.01 L659.00,472.95 L660.00,472.95 L661.00,472.96 L662.00,472.95 L663.00,472.97 L664.00,473.09 L665.00,473.20 L666.00,473.19 L667.00,473.14 L668.00,473.11 L669.00,473.09" stroke="#000" stroke-width="3.20" fill="none" stroke-linejoin="round" stroke-linecap="butt"/>
<path d="M409.50,471.00 L410.00,469.82 L410.50,468.64 L411.00,467.46 L411.50,466.29 L412.00,465.11 L412.50,463.94 L413.00,462.77 L413.50,461.60 L414.00,460.44 L414.50,459.28 L415.00,458.12 L415.50,456.97 L416.00,455.82 L416.50,454.68 L417.00,453.54 L417.50,452.41 L418.00,451.29 L418.50,450.17 L419.00,449.07 L419.50,447.97 L420.00,446.87 L420.50,445.79 L421.00,444.71 L421.50,443.64 L422.00,442.59 L422.50,441.54 L423.00,440.52 L423.50,439.52 L424.00,438.55 L424.50,437.61 L425.00,436.70 L425.50,435.83 L426.00,434.98 L426.50,434.17 L427.00,433.38 L427.50,432.63 L428.00,431.89 L428.50,431.18 L429.00,430.48 L429.50,429.80 L430.00,429.13 L430.50,428.48 L431.00,427.83 L431.50,427.20 L432.00,426.57 L432.50,425.95 L433.00,425.34 L433.50,424.73 L434.00,424.13 L434.50,423.54 L435.00,422.95 L435.50,422.37 L436.00,421.81 L436.50,421.25 L437.00,420.72 L437.50,420.19 L438.00,419.69 L438.50,419.20 L439.00,418.73 L439.50,418.29 L440.00,417.86 L440.50,417.46 L441.00,417.07 L441.50,416.70 L442.00,416.36 L442.50,416.03 L443.00,415.72 L443.50,415.43 L444.00,415.16 L444.50,414.91 L445.00,414.68 L445.50,414.47 L446.00,414.28 L446.50,414.11 L447.00,413.97 L447.50,413.84 L448.00,413.75 L448.50,413.67 L449.00,413.62 L449.50,413.60 L450.00,413.60 L450.50,413.62 L451.00,413.66 L451.50,413.73 L452.00,413.81 L452.50,413.91 L453.00,414.03 L453.50,414.16 L454.00,414.31 L454.50,414.47 L455.00,414.64 L455.50,414.82 L456.00,415.02 L456.50,415.23 L457.00,415.45 L457.50,415.69 L458.00,415.93 L458.50,416.20 L459.00,416.47 L459.50,416.76 L460.00,417.05 L460.50,417.35 L461.00,417.66 L461.50,417.97 L462.00,418.28 L462.50,418.59 L463.00,418.89 L463.50,419.20 L464.00,419.49 L464.50,419.78 L465.00,420.06 L465.50,420.34 L466.00,420.61 L466.50,420.89 L467.00,421.19 L467.50,421.50 L468.00,421.83 L468.50,422.18 L469.00,422.56 L469.50,422.97 L470.00,423.40 L470.50,423.85 L471.00,424.32 L471.50,424.81 L472.00,425.31 L472.50,425.82 L473.00,426.34 L473.50,426.87 L474.00,427.41 L474.50,427.95 L475.00,428.49 L475.50,429.04 L476.00,429.58 L476.50,430.13 L477.00,430.68 L477.50,431.23 L478.00,431.78 L478.50,432.33 L479.00,432.87 L479.50,433.42 L480.00,433.96 L480.50,434.50 L481.00,435.04 L481.50,435.58 L482.00,436.12 L482.50,436.67 L483.00,437.21 L483.50,437.75 L484.00,438.30 L484.50,438.84 L485.00,439.39 L485.50,439.93 L486.00,440.47 L486.50,441.00 L487.00,441.54 L487.50,442.06 L488.00,442.58 L488.50,443.10 L489.00,443.61 L489.50,444.11 L490.00,444.60 L490.50,445.09 L491.00,445.57 L491.50,446.04 L492.00,446.51 L492.50,446.97 L493.00,447.42 L493.50,447.87 L494.00,448.31 L494.50,448.75 L495.00,449.18 L495.50,449.61 L496.00,450.03 L496.50,450.44 L497.00,450.85 L497.50,451.25 L498.00,451.64 L498.50,452.03 L499.00,452.40 L499.50,452.77 L500.00,453.13 L500.50,453.48 L501.00,453.82 L501.50,454.15 L502.00,454.47 L502.50,454.79 L503.00,455.09 L503.50,455.38 L504.00,455.66 L504.50,455.93 L505.00,456.20 L505.50,456.45 L506.00,456.70 L506.50,456.95 L507.00,457.19 L507.50,457.42 L508.00,457.65 L508.50,457.87 L509.00,458.09 L509.50,458.31 L510.00,458.53 L510.50,458.75 L511.00,458.97 L511.50,459.18 L512.00,459.39 L512.50,459.61 L513.00,459.82 L513.50,460.02 L514.00,460.23 L514.50,460.43 L515.00,460.63 L515.50,460.83 L516.00,461.02 L516.50,461.21 L517.00,461.40 L517.50,461.59 L518.00,461.77 L518.50,461.96 L519.00,462.14 L519.50,462.32 L520.00,462.49 L520.50,462.67 L521.00,462.84 L521.50,463.02 L522.00,463.19 L522.50,463.36 L523.00,463.53 L523.50,463.70 L524.00,463.87 L524.50,464.03 L525.00,464.19 L525.50,464.36 L526.00,464.52 L526.50,464.68 L527.00,464.83 L527.50,464.99 L528.00,465.14 L528.50,465.29 L529.00,465.44 L529.50,465.59 L530.00,465.74 L530.50,465.88 L531.00,466.02 L531.50,466.16 L532.00,466.30 L532.50,466.43 L533.00,466.57 L533.50,466.70 L534.00,466.83 L534.50,466.96 L535.00,467.09 L535.50,467.22 L536.00,467.35 L536.50,467.47 L537.00,467.60 L537.50,467.72 L538.00,467.83 L538.50,467.94 L539.00,468.05 L539.50,468.16 L540.00,468.26 L540.50,468.36 L541.00,468.45 L541.50,468.54 L542.00,468.63 L542.50,468.71 L543.00,468.80 L543.50,468.87 L544.00,468.95 L544.50,469.02 L545.00,469.09 L545.50,469.16 L546.00,469.22 L546.50,469.29 L547.00,469.35 L547.50,469.41 L548.00,469.47 L548.50,469.53 L549.00,469.59 L549.50,469.64 L550.00,469.69 L550.50,469.75 L551.00,469.80 L551.50,469.85 L552.00,469.90 L552.50,469.95 L553.00,469.99 L553.50,470.04 L554.00,470.09 L554.50,470.13 L555.00,470.18 L555.50,470.22 L556.00,470.27 L556.50,470.31 L557.00,470.35 L557.50,470.39 L558.00,470.44 L558.50,470.48 L559.00,470.52 L559.50,470.56 L560.00,470.60 L560.50,470.64 L561.00,470.69 L561.50,470.73 L562.00,470.78 L562.50,470.82 L563.00,470.87 L563.50,470.91 L564.00,470.96 L564.50,471.01 L565.00,471.05 L565.50,471.10 L566.00,471.15 L566.50,471.19 L567.00,471.24 L567.50,471.28 L568.00,471.33 L568.50,471.37 L569.00,471.41 L569.50,471.46 L570.00,471.50 L570.50,471.53 L571.00,471.57 L571.50,471.61 L572.00,471.64 L572.50,471.68 L573.00,471.71 L573.50,471.74 L574.00,471.77 L574.50,471.80 L575.00,471.83 L575.50,471.86 L576.00,471.88 L576.50,471.91 L577.00,471.93 L577.50,471.95 L578.00,471.98 L578.50,472.00 L579.00,472.02 L579.50,472.04 L580.00,472.06 L580.50,472.07 L581.00,472.09 L581.50,472.11 L582.00,472.12 L582.50,472.14 L583.00,472.15 L583.50,472.17 L584.00,472.18 L584.50,472.19 L585.00,472.20 L585.50,472.22 L586.00,472.23 L586.50,472.24 L587.00,472.25 L587.50,472.26 L588.00,472.27 L588.50,472.27 L589.00,472.28 L589.50,472.29 L590.00,472.30 L590.50,472.31 L591.00,472.31 L591.50,472.32 L592.00,472.33 L592.50,472.33 L593.00,472.34 L593.50,472.34 L594.00,472.35 L594.50,472.36 L595.00,472.36 L595.50,472.37 L596.00,472.37 L596.50,472.38 L597.00,472.38 L597.50,472.39 L598.00,472.39 L598.50,472.40 L599.00,472.40 L599.50,472.40 L600.00,472.41 L600.50,472.41 L601.00,472.42 L601.50,472.42 L602.00,472.42 L602.50,472.43 L603.00,472.43 L603.50,472.43 L604.00,472.44 L604.50,472.44 L605.00,472.45 L605.50,472.45 L606.00,472.45 L606.50,472.45 L607.00,472.46 L607.50,472.46 L608.00,472.46 L608.50,472.47 L609.00,472.47 L609.50,472.47 L610.00,472.47 L610.50,472.48 L611.00,472.48 L611.50,472.48 L612.00,472.48 L612.50,472.49 L613.00,472.49 L613.50,472.49 L614.00,472.49 L614.50,472.50 L615.00,472.50 L615.50,472.50 L616.00,472.50 L616.50,472.50 L617.00,472.51 L617.50,472.51 L618.00,472.51 L618.50,472.51 L619.00,472.51 L619.50,472.52 L620.00,472.52 L620.50,472.52 L621.00,472.52 L621.50,472.52 L622.00,472.53 L622.50,472.53 L623.00,472.53 L623.50,472.53 L624.00,472.53 L624.50,472.53 L625.00,472.54 L625.50,472.54 L626.00,472.54 L626.50,472.54 L627.00,472.54 L627.50,472.54 L628.00,472.55 L628.50,472.55 L629.00,472.55 L629.50,472.55 L630.00,472.55 L630.50,472.55 L631.00,472.55 L631.50,472.56 L632.00,472.56 L632.50,472.56 L633.00,472.56 L633.50,472.56 L634.00,472.56 L634.50,472.57 L635.00,472.57 L635.50,472.57 L636.00,472.57 L636.50,472.57 L637.00,472.57 L637.50,472.58 L638.00,472.58 L638.50,472.58 L639.00,472.58 L639.50,472.58 L640.00,472.59 L640.50,472.59 L641.00,472.59 L641.50,472.59 L642.00,472.60 L642.50,472.60" stroke="#e30808" stroke-width="2.50" fill="none" stroke-linejoin="round" stroke-linecap="butt"/>
<path d="M131.40,25.70V121.40" stroke="#0000ff" stroke-width="3"/>
<path d="M512.50,25.70V121.40" stroke="#0000ff" stroke-width="3"/>
<path d="M213.40,200.90V296.30" stroke="#0000ff" stroke-width="3"/>
<path d="M558.70,200.90V296.30" stroke="#0000ff" stroke-width="3"/>
</svg>
</body></html>
